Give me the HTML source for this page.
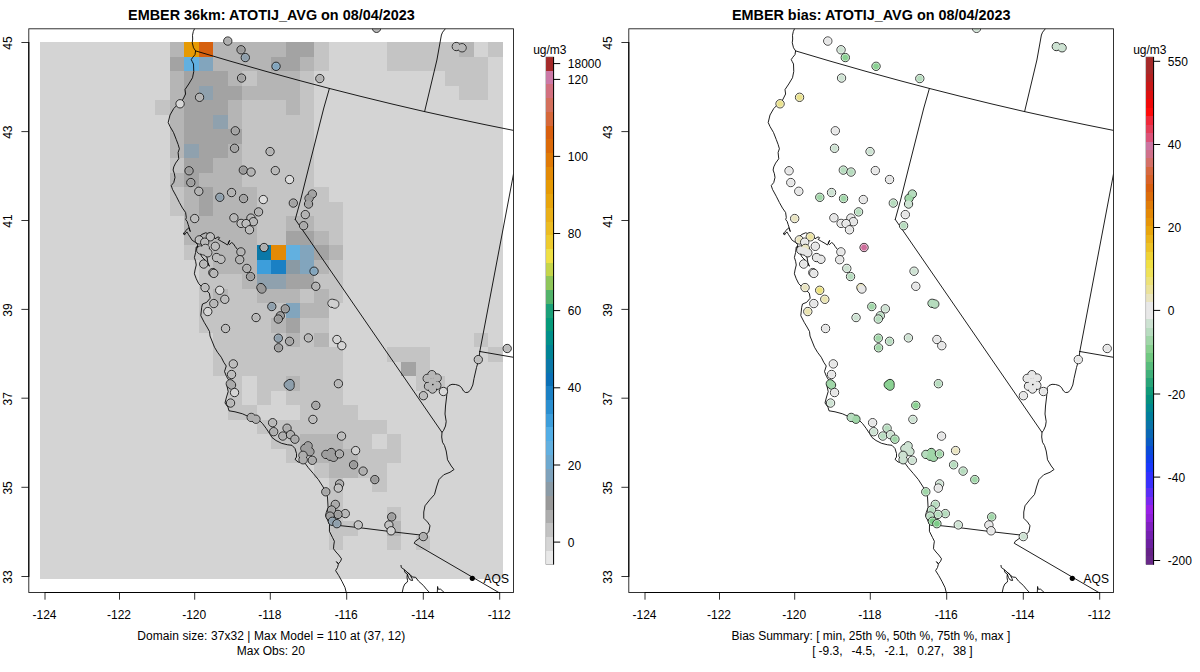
<!DOCTYPE html>
<html lang="en">
<head>
<meta charset="utf-8">
<title>EMBER 36km ATOTIJ_AVG 08/04/2023</title>
<style>
html,body{margin:0;padding:0;background:#fff;}
body{width:1200px;height:672px;overflow:hidden;font-family:"Liberation Sans",Arial,sans-serif;}
svg{display:block;}
</style>
</head>
<body>
<svg width="1200" height="672" viewBox="0 0 1200 672" font-family="Liberation Sans, Arial, sans-serif" font-size="12" fill="#000">
<rect width="1200" height="672" fill="#fff"/>
<defs>
<clipPath id="cl"><rect x="28.8" y="28.8" width="484.7" height="563.7"/></clipPath>
<clipPath id="cr"><rect x="628.8" y="28.8" width="484.7" height="563.7"/></clipPath>
</defs>
<g shape-rendering="crispEdges">
<rect x="39.55" y="42.3" width="463.05" height="536.9000000000001" fill="#d4d4d4"/>
<rect x="170" y="42" width="14" height="15" fill="#b5b5b5"/>
<rect x="184" y="42" width="15" height="15" fill="#e69a03"/>
<rect x="199" y="42" width="14" height="15" fill="#d6600e"/>
<rect x="213" y="42" width="73" height="15" fill="#b5b5b5"/>
<rect x="286" y="42" width="28" height="15" fill="#a3a3a3"/>
<rect x="314" y="42" width="15" height="15" fill="#c4c4c4"/>
<rect x="387" y="42" width="72" height="15" fill="#c4c4c4"/>
<rect x="459" y="42" width="15" height="15" fill="#b5b5b5"/>
<rect x="488" y="42" width="15" height="15" fill="#c4c4c4"/>
<rect x="170" y="57" width="14" height="14" fill="#a3a3a3"/>
<rect x="184" y="57" width="15" height="14" fill="#62b0e0"/>
<rect x="199" y="57" width="14" height="14" fill="#82a5bd"/>
<rect x="213" y="57" width="58" height="14" fill="#b5b5b5"/>
<rect x="271" y="57" width="29" height="14" fill="#a3a3a3"/>
<rect x="300" y="57" width="14" height="14" fill="#b5b5b5"/>
<rect x="314" y="57" width="15" height="14" fill="#c4c4c4"/>
<rect x="387" y="57" width="101" height="14" fill="#c4c4c4"/>
<rect x="170" y="71" width="14" height="15" fill="#b5b5b5"/>
<rect x="184" y="71" width="44" height="15" fill="#a3a3a3"/>
<rect x="228" y="71" width="14" height="15" fill="#b5b5b5"/>
<rect x="242" y="71" width="15" height="15" fill="#c4c4c4"/>
<rect x="257" y="71" width="43" height="15" fill="#b5b5b5"/>
<rect x="300" y="71" width="14" height="15" fill="#c4c4c4"/>
<rect x="445" y="71" width="43" height="15" fill="#c4c4c4"/>
<rect x="170" y="86" width="14" height="14" fill="#b5b5b5"/>
<rect x="184" y="86" width="15" height="14" fill="#a3a3a3"/>
<rect x="199" y="86" width="14" height="14" fill="#8fa1ae"/>
<rect x="213" y="86" width="29" height="14" fill="#a3a3a3"/>
<rect x="242" y="86" width="58" height="14" fill="#b5b5b5"/>
<rect x="300" y="86" width="14" height="14" fill="#c4c4c4"/>
<rect x="459" y="86" width="29" height="14" fill="#c4c4c4"/>
<rect x="155" y="100" width="15" height="15" fill="#c4c4c4"/>
<rect x="170" y="100" width="14" height="15" fill="#b5b5b5"/>
<rect x="184" y="100" width="44" height="15" fill="#a3a3a3"/>
<rect x="228" y="100" width="14" height="15" fill="#b5b5b5"/>
<rect x="242" y="100" width="44" height="15" fill="#c4c4c4"/>
<rect x="286" y="100" width="14" height="15" fill="#b5b5b5"/>
<rect x="300" y="100" width="14" height="15" fill="#c4c4c4"/>
<rect x="170" y="115" width="14" height="14" fill="#b5b5b5"/>
<rect x="184" y="115" width="29" height="14" fill="#a3a3a3"/>
<rect x="213" y="115" width="15" height="14" fill="#8fa1ae"/>
<rect x="228" y="115" width="14" height="14" fill="#b5b5b5"/>
<rect x="242" y="115" width="72" height="14" fill="#c4c4c4"/>
<rect x="170" y="129" width="14" height="15" fill="#b5b5b5"/>
<rect x="184" y="129" width="58" height="15" fill="#a3a3a3"/>
<rect x="242" y="129" width="72" height="15" fill="#c4c4c4"/>
<rect x="170" y="144" width="14" height="14" fill="#b5b5b5"/>
<rect x="184" y="144" width="15" height="14" fill="#8fa1ae"/>
<rect x="199" y="144" width="29" height="14" fill="#a3a3a3"/>
<rect x="228" y="144" width="14" height="14" fill="#b5b5b5"/>
<rect x="242" y="144" width="72" height="14" fill="#c4c4c4"/>
<rect x="170" y="158" width="14" height="15" fill="#c4c4c4"/>
<rect x="184" y="158" width="29" height="15" fill="#a3a3a3"/>
<rect x="213" y="158" width="29" height="15" fill="#b5b5b5"/>
<rect x="242" y="158" width="72" height="15" fill="#c4c4c4"/>
<rect x="170" y="173" width="14" height="14" fill="#b5b5b5"/>
<rect x="184" y="173" width="15" height="14" fill="#a3a3a3"/>
<rect x="199" y="173" width="43" height="14" fill="#b5b5b5"/>
<rect x="242" y="173" width="72" height="14" fill="#c4c4c4"/>
<rect x="170" y="187" width="14" height="15" fill="#c4c4c4"/>
<rect x="184" y="187" width="15" height="15" fill="#b5b5b5"/>
<rect x="199" y="187" width="14" height="15" fill="#a3a3a3"/>
<rect x="213" y="187" width="44" height="15" fill="#b5b5b5"/>
<rect x="257" y="187" width="72" height="15" fill="#c4c4c4"/>
<rect x="170" y="202" width="14" height="14" fill="#c4c4c4"/>
<rect x="184" y="202" width="15" height="14" fill="#b5b5b5"/>
<rect x="199" y="202" width="14" height="14" fill="#a3a3a3"/>
<rect x="213" y="202" width="44" height="14" fill="#b5b5b5"/>
<rect x="257" y="202" width="86" height="14" fill="#c4c4c4"/>
<rect x="184" y="216" width="73" height="15" fill="#b5b5b5"/>
<rect x="257" y="216" width="29" height="15" fill="#c4c4c4"/>
<rect x="286" y="216" width="28" height="15" fill="#b5b5b5"/>
<rect x="314" y="216" width="29" height="15" fill="#c4c4c4"/>
<rect x="184" y="231" width="73" height="14" fill="#b5b5b5"/>
<rect x="257" y="231" width="29" height="14" fill="#c4c4c4"/>
<rect x="286" y="231" width="28" height="14" fill="#a3a3a3"/>
<rect x="314" y="231" width="15" height="14" fill="#b5b5b5"/>
<rect x="329" y="231" width="14" height="14" fill="#c4c4c4"/>
<rect x="184" y="245" width="29" height="15" fill="#c4c4c4"/>
<rect x="213" y="245" width="44" height="15" fill="#b5b5b5"/>
<rect x="257" y="245" width="14" height="15" fill="#0a78a8"/>
<rect x="271" y="245" width="15" height="15" fill="#e38a06"/>
<rect x="286" y="245" width="14" height="15" fill="#62b0e0"/>
<rect x="300" y="245" width="14" height="15" fill="#82a5bd"/>
<rect x="314" y="245" width="15" height="15" fill="#a3a3a3"/>
<rect x="329" y="245" width="14" height="15" fill="#b5b5b5"/>
<rect x="199" y="260" width="14" height="14" fill="#c4c4c4"/>
<rect x="213" y="260" width="44" height="14" fill="#b5b5b5"/>
<rect x="257" y="260" width="14" height="14" fill="#3d9edb"/>
<rect x="271" y="260" width="15" height="14" fill="#1a80c4"/>
<rect x="286" y="260" width="14" height="14" fill="#8a9aa4"/>
<rect x="300" y="260" width="14" height="14" fill="#82a5bd"/>
<rect x="314" y="260" width="15" height="14" fill="#b5b5b5"/>
<rect x="329" y="260" width="14" height="14" fill="#c4c4c4"/>
<rect x="199" y="274" width="43" height="15" fill="#c4c4c4"/>
<rect x="242" y="274" width="15" height="15" fill="#b5b5b5"/>
<rect x="257" y="274" width="29" height="15" fill="#8fa1ae"/>
<rect x="286" y="274" width="28" height="15" fill="#a3a3a3"/>
<rect x="314" y="274" width="29" height="15" fill="#c4c4c4"/>
<rect x="199" y="289" width="14" height="14" fill="#c4c4c4"/>
<rect x="213" y="289" width="15" height="14" fill="#b5b5b5"/>
<rect x="228" y="289" width="29" height="14" fill="#c4c4c4"/>
<rect x="257" y="289" width="43" height="14" fill="#b5b5b5"/>
<rect x="300" y="289" width="14" height="14" fill="#c4c4c4"/>
<rect x="314" y="289" width="15" height="14" fill="#b5b5b5"/>
<rect x="329" y="289" width="14" height="14" fill="#c4c4c4"/>
<rect x="199" y="303" width="87" height="15" fill="#c4c4c4"/>
<rect x="286" y="303" width="14" height="15" fill="#82a5bd"/>
<rect x="300" y="303" width="29" height="15" fill="#b5b5b5"/>
<rect x="199" y="318" width="72" height="15" fill="#c4c4c4"/>
<rect x="271" y="318" width="15" height="15" fill="#b5b5b5"/>
<rect x="286" y="318" width="14" height="15" fill="#a3a3a3"/>
<rect x="300" y="318" width="29" height="15" fill="#c4c4c4"/>
<rect x="213" y="333" width="73" height="14" fill="#c4c4c4"/>
<rect x="286" y="333" width="14" height="14" fill="#b5b5b5"/>
<rect x="300" y="333" width="14" height="14" fill="#c4c4c4"/>
<rect x="314" y="333" width="15" height="14" fill="#b5b5b5"/>
<rect x="474" y="333" width="14" height="14" fill="#c4c4c4"/>
<rect x="213" y="347" width="130" height="15" fill="#c4c4c4"/>
<rect x="387" y="347" width="43" height="15" fill="#c4c4c4"/>
<rect x="488" y="347" width="15" height="15" fill="#c4c4c4"/>
<rect x="213" y="362" width="130" height="14" fill="#c4c4c4"/>
<rect x="401" y="362" width="15" height="14" fill="#a3a3a3"/>
<rect x="416" y="362" width="14" height="14" fill="#c4c4c4"/>
<rect x="228" y="376" width="14" height="15" fill="#c4c4c4"/>
<rect x="257" y="376" width="29" height="15" fill="#c4c4c4"/>
<rect x="286" y="376" width="14" height="15" fill="#b5b5b5"/>
<rect x="300" y="376" width="43" height="15" fill="#c4c4c4"/>
<rect x="416" y="376" width="29" height="15" fill="#c4c4c4"/>
<rect x="228" y="391" width="14" height="14" fill="#c4c4c4"/>
<rect x="257" y="391" width="14" height="14" fill="#c4c4c4"/>
<rect x="286" y="391" width="57" height="14" fill="#c4c4c4"/>
<rect x="228" y="405" width="29" height="15" fill="#c4c4c4"/>
<rect x="300" y="405" width="58" height="15" fill="#c4c4c4"/>
<rect x="257" y="420" width="130" height="14" fill="#c4c4c4"/>
<rect x="271" y="434" width="29" height="15" fill="#c4c4c4"/>
<rect x="300" y="434" width="43" height="15" fill="#b5b5b5"/>
<rect x="343" y="434" width="29" height="15" fill="#c4c4c4"/>
<rect x="387" y="434" width="14" height="15" fill="#c4c4c4"/>
<rect x="286" y="449" width="28" height="14" fill="#c4c4c4"/>
<rect x="314" y="449" width="44" height="14" fill="#b5b5b5"/>
<rect x="358" y="449" width="43" height="14" fill="#c4c4c4"/>
<rect x="314" y="463" width="15" height="15" fill="#c4c4c4"/>
<rect x="329" y="463" width="29" height="15" fill="#b5b5b5"/>
<rect x="358" y="463" width="29" height="15" fill="#c4c4c4"/>
<rect x="329" y="478" width="14" height="14" fill="#c4c4c4"/>
<rect x="372" y="478" width="15" height="14" fill="#c4c4c4"/>
<rect x="329" y="492" width="14" height="15" fill="#c4c4c4"/>
<rect x="329" y="507" width="14" height="14" fill="#c4c4c4"/>
<rect x="387" y="507" width="14" height="14" fill="#c4c4c4"/>
<rect x="329" y="521" width="29" height="15" fill="#c4c4c4"/>
<rect x="387" y="521" width="14" height="15" fill="#b5b5b5"/>
<rect x="329" y="536" width="14" height="14" fill="#c4c4c4"/>
<rect x="387" y="536" width="14" height="14" fill="#c4c4c4"/>
<rect x="416" y="536" width="14" height="14" fill="#c4c4c4"/>
</g>
<g clip-path="url(#cl)">
<g fill="none" stroke="#000" stroke-width="0.88" stroke-linejoin="round" stroke-linecap="round">
<polyline points="194.60,28.60 193.30,31.50 192.50,35.25 192.70,39.00 192.25,42.75 193.50,47.75 195.60,50.90 195.00,54.60 192.60,57.50 191.25,59.60 192.20,61.50 193.50,64.00 193.75,71.50 192.50,77.75 188.75,84.00 185.00,89.60 185.60,94.00 183.10,99.00 181.25,102.10 178.75,103.50 173.75,108.50 170.00,115.00 168.20,122.50 170.00,126.50 173.50,132.50 176.25,139.50 178.10,144.40 179.40,148.75 178.10,152.50 178.75,158.75 175.60,163.10 173.75,166.90 173.10,170.00 174.40,173.75 175.00,177.50 173.75,182.50 171.25,185.60 172.50,189.40 176.25,196.25 179.40,202.50 182.50,208.10 185.60,212.50 186.30,217.50 185.70,219.60 187.20,221.50 188.10,224.40 189.30,228.00 190.30,231.60 189.40,229.50 188.60,227.80 187.30,229.00 185.90,230.60 184.60,232.50 183.30,234.00 184.50,234.70 185.80,233.20 186.90,231.90 188.40,234.40 190.00,236.90 192.20,240.30 195.60,242.50 197.50,244.50 197.80,246.25 196.25,247.00 195.60,252.50 194.40,257.50 195.60,261.25 196.25,265.00 195.00,270.00 194.40,273.75 196.25,278.75 198.75,283.75 202.50,287.50 206.00,290.00 209.30,293.20 210.20,298.20 206.70,302.30 202.50,304.00 201.70,307.30 200.80,315.70 204.20,322.30 207.00,327.00 209.50,331.50 210.00,336.00 212.00,341.00 214.50,347.25 217.50,352.25 221.25,357.25 223.75,362.25 226.25,366.00 224.50,371.50 226.50,376.50 228.50,379.75 227.00,386.00 228.20,391.50 226.25,398.00 225.00,403.00 228.00,407.25 229.00,410.80 235.00,411.80 242.50,413.80 250.00,417.25 258.75,419.90 262.50,423.50 266.25,428.50 269.50,433.50 272.00,437.50 276.00,440.50 281.50,443.30 287.50,444.75 292.00,445.30 295.00,448.50 296.50,453.50 296.50,457.00 295.00,459.30 298.00,462.00 305.00,463.20 308.30,467.70 313.30,473.50 318.30,479.50 322.50,486.00 325.50,491.00 327.50,496.90 328.10,507.50 326.25,512.50 325.60,515.60 328.10,521.25 329.50,524.50 329.40,531.25 332.50,537.50 334.40,541.25 333.80,545.00 333.50,548.75 336.00,552.00 338.75,555.00 341.50,558.75 340.60,561.25 338.50,563.75 336.40,561.60 338.40,564.20 337.50,567.50 335.60,570.60 338.75,575.60 341.90,581.25 345.00,587.50 346.25,592.50"/>
<polyline points="183.60,233.20 184.90,234.20"/>
<polyline points="197.50,243.50 198.00,240.60 198.75,236.90 201.90,234.40 205.60,232.80 207.50,233.40 210.00,233.00 212.50,235.40 215.00,238.75 218.10,236.90 219.70,237.80 218.10,239.40 221.25,241.25 225.00,243.40 227.50,245.00 228.80,242.50 229.70,240.30 228.10,243.10 229.50,244.60 231.60,242.50 233.40,243.75 235.00,246.25 236.90,248.75"/>
<polyline points="197.50,246.25 196.90,250.00 200.00,253.10 201.90,256.90 205.00,260.00 208.10,263.10 209.40,266.25 208.10,264.00 207.50,260.00 206.25,253.75 202.50,247.50 201.25,242.50 203.10,238.75"/>
<polyline points="195.60,50.90 230.00,61.10 265.00,71.10 300.00,80.70 329.40,88.45 360.00,96.20 392.00,104.00 424.60,111.60 455.00,118.30 485.00,124.65 513.50,130.40"/>
<polyline points="329.40,88.45 323.80,108.00 308.60,168.00 300.60,200.00 295.25,219.40"/>
<polyline points="295.25,219.40 441.90,432.25"/>
<polyline points="424.60,111.60 436.90,60.00 441.40,35.00 442.60,32.20 445.50,28.60"/>
<polyline points="513.50,174.00 479.80,351.50"/>
<polyline points="479.80,351.50 513.50,357.30"/>
<polyline points="479.80,351.50 478.75,359.75 476.50,367.50 474.00,378.50 472.80,385.00 470.50,390.00 468.00,392.30 465.50,392.50 463.50,391.00 461.50,387.50 459.00,385.50 455.50,384.50 452.00,384.30 449.00,385.50 447.30,387.50 446.70,396.00 445.50,406.00 445.00,414.00 446.20,421.50 445.50,426.00 443.50,430.50 442.00,432.25 441.70,437.00 442.50,442.25 444.50,445.50 446.20,451.00 447.00,456.00 447.50,459.75 451.25,466.00 454.00,469.50 450.00,472.25 443.75,474.75 439.00,479.50 436.50,487.00 434.50,494.50 430.00,499.50 425.00,505.75 423.75,512.00 423.75,518.25 427.50,522.00 430.00,525.75 428.75,532.00 425.00,535.25"/>
<polyline points="329.50,524.50 358.75,527.60 390.00,531.50 422.50,535.25"/>
<polyline points="424.50,535.40 421.25,537.00 415.00,541.50 414.25,543.25 498.75,592.50"/>
<polyline points="401.00,565.40 401.30,567.50 404.30,569.60 407.30,572.30 410.20,574.60 412.30,577.00 415.60,577.30 418.60,581.20 423.30,585.40 426.90,589.80 429.60,592.50"/>
<polyline points="404.30,569.90 404.90,572.30 407.30,574.00 408.50,577.60 410.20,580.00 412.60,580.50 412.00,578.50 410.20,575.20 407.30,572.30"/>
<polyline points="407.30,574.60 407.00,577.60 407.60,580.60 407.30,582.10 404.90,583.90 403.40,587.10 402.20,592.50"/>
<polyline points="437.30,592.50 437.60,586.50 438.20,589.20 440.60,589.20 444.20,592.50"/>
</g>
<g stroke="#0c0c0c" stroke-width="0.85">
<circle cx="227.80" cy="41.05" r="4.15" fill="#aeaeae"/>
<circle cx="227.80" cy="41.05" r="3.35" fill="none" stroke="#fff" stroke-opacity="0.16" stroke-width="0.9"/>
<circle cx="241.05" cy="49.80" r="4.15" fill="#9a9a9a"/>
<circle cx="241.05" cy="49.80" r="3.35" fill="none" stroke="#fff" stroke-opacity="0.16" stroke-width="0.9"/>
<circle cx="245.30" cy="57.55" r="4.15" fill="#8e9fac"/>
<circle cx="245.30" cy="57.55" r="3.35" fill="none" stroke="#fff" stroke-opacity="0.16" stroke-width="0.9"/>
<circle cx="276.05" cy="66.30" r="4.15" fill="#82a5bd"/>
<circle cx="276.05" cy="66.30" r="3.35" fill="none" stroke="#fff" stroke-opacity="0.16" stroke-width="0.9"/>
<circle cx="241.55" cy="78.05" r="4.15" fill="#a3a3a3"/>
<circle cx="241.55" cy="78.05" r="3.35" fill="none" stroke="#fff" stroke-opacity="0.16" stroke-width="0.9"/>
<circle cx="199.55" cy="97.30" r="4.15" fill="#b2b2b2"/>
<circle cx="199.55" cy="97.30" r="3.35" fill="none" stroke="#fff" stroke-opacity="0.16" stroke-width="0.9"/>
<circle cx="180.05" cy="103.80" r="4.15" fill="#d6d6d6"/>
<circle cx="180.05" cy="103.80" r="3.35" fill="none" stroke="#fff" stroke-opacity="0.16" stroke-width="0.9"/>
<circle cx="235.30" cy="130.80" r="4.15" fill="#a3a3a3"/>
<circle cx="235.30" cy="130.80" r="3.35" fill="none" stroke="#fff" stroke-opacity="0.16" stroke-width="0.9"/>
<circle cx="234.55" cy="148.30" r="4.15" fill="#a3a3a3"/>
<circle cx="234.55" cy="148.30" r="3.35" fill="none" stroke="#fff" stroke-opacity="0.16" stroke-width="0.9"/>
<circle cx="270.05" cy="151.55" r="4.15" fill="#b2b2b2"/>
<circle cx="270.05" cy="151.55" r="3.35" fill="none" stroke="#fff" stroke-opacity="0.16" stroke-width="0.9"/>
<circle cx="376.55" cy="28.30" r="4.15" fill="#b7b7b7"/>
<circle cx="376.55" cy="28.30" r="3.35" fill="none" stroke="#fff" stroke-opacity="0.16" stroke-width="0.9"/>
<circle cx="319.80" cy="78.55" r="4.15" fill="#b2b2b2"/>
<circle cx="319.80" cy="78.55" r="3.35" fill="none" stroke="#fff" stroke-opacity="0.16" stroke-width="0.9"/>
<circle cx="456.30" cy="46.55" r="4.15" fill="#b7b7b7"/>
<circle cx="462.05" cy="47.80" r="4.15" fill="#b7b7b7"/>
<circle cx="456.30" cy="46.55" r="3.53" fill="#b7b7b7" stroke="none"/>
<circle cx="462.05" cy="47.80" r="3.53" fill="#b7b7b7" stroke="none"/>
<circle cx="189.05" cy="170.80" r="4.15" fill="#9a9a9a"/>
<circle cx="189.05" cy="170.80" r="3.35" fill="none" stroke="#fff" stroke-opacity="0.16" stroke-width="0.9"/>
<circle cx="243.30" cy="170.10" r="4.15" fill="#9a9a9a"/>
<circle cx="243.30" cy="170.10" r="3.35" fill="none" stroke="#fff" stroke-opacity="0.16" stroke-width="0.9"/>
<circle cx="251.05" cy="172.05" r="4.15" fill="#b2b2b2"/>
<circle cx="251.05" cy="172.05" r="3.35" fill="none" stroke="#fff" stroke-opacity="0.16" stroke-width="0.9"/>
<circle cx="275.30" cy="170.60" r="4.15" fill="#b7b7b7"/>
<circle cx="275.30" cy="170.60" r="3.35" fill="none" stroke="#fff" stroke-opacity="0.16" stroke-width="0.9"/>
<circle cx="289.55" cy="179.55" r="4.15" fill="#dcdcdc"/>
<circle cx="289.55" cy="179.55" r="3.35" fill="none" stroke="#fff" stroke-opacity="0.16" stroke-width="0.9"/>
<circle cx="190.80" cy="182.55" r="4.15" fill="#9e9e9e"/>
<circle cx="190.80" cy="182.55" r="3.35" fill="none" stroke="#fff" stroke-opacity="0.16" stroke-width="0.9"/>
<circle cx="198.80" cy="191.30" r="4.15" fill="#b2b2b2"/>
<circle cx="198.80" cy="191.30" r="3.35" fill="none" stroke="#fff" stroke-opacity="0.16" stroke-width="0.9"/>
<circle cx="219.80" cy="197.30" r="4.15" fill="#8e9fac"/>
<circle cx="219.80" cy="197.30" r="3.35" fill="none" stroke="#fff" stroke-opacity="0.16" stroke-width="0.9"/>
<circle cx="231.55" cy="192.55" r="4.15" fill="#b2b2b2"/>
<circle cx="231.55" cy="192.55" r="3.35" fill="none" stroke="#fff" stroke-opacity="0.16" stroke-width="0.9"/>
<circle cx="243.55" cy="198.55" r="4.15" fill="#a3a3a3"/>
<circle cx="243.55" cy="198.55" r="3.35" fill="none" stroke="#fff" stroke-opacity="0.16" stroke-width="0.9"/>
<circle cx="263.30" cy="199.55" r="4.15" fill="#dcdcdc"/>
<circle cx="263.30" cy="199.55" r="3.35" fill="none" stroke="#fff" stroke-opacity="0.16" stroke-width="0.9"/>
<circle cx="293.30" cy="203.05" r="4.15" fill="#a3a3a3"/>
<circle cx="293.30" cy="203.05" r="3.35" fill="none" stroke="#fff" stroke-opacity="0.16" stroke-width="0.9"/>
<circle cx="258.55" cy="211.90" r="4.15" fill="#b2b2b2"/>
<circle cx="258.55" cy="211.90" r="3.35" fill="none" stroke="#fff" stroke-opacity="0.16" stroke-width="0.9"/>
<circle cx="194.70" cy="218.55" r="4.15" fill="#bcbcbc"/>
<circle cx="194.70" cy="218.55" r="3.35" fill="none" stroke="#fff" stroke-opacity="0.16" stroke-width="0.9"/>
<circle cx="233.90" cy="217.80" r="4.15" fill="#b7b7b7"/>
<circle cx="233.90" cy="217.80" r="3.35" fill="none" stroke="#fff" stroke-opacity="0.16" stroke-width="0.9"/>
<circle cx="250.90" cy="218.10" r="4.15" fill="#b7b7b7"/>
<circle cx="250.90" cy="218.10" r="3.35" fill="none" stroke="#fff" stroke-opacity="0.16" stroke-width="0.9"/>
<circle cx="253.40" cy="221.70" r="4.15" fill="#b7b7b7"/>
<circle cx="253.40" cy="221.70" r="3.35" fill="none" stroke="#fff" stroke-opacity="0.16" stroke-width="0.9"/>
<circle cx="241.10" cy="223.40" r="4.15" fill="#bcbcbc"/>
<circle cx="241.10" cy="223.40" r="3.35" fill="none" stroke="#fff" stroke-opacity="0.16" stroke-width="0.9"/>
<circle cx="246.10" cy="223.60" r="4.15" fill="#bcbcbc"/>
<circle cx="246.10" cy="223.60" r="3.35" fill="none" stroke="#fff" stroke-opacity="0.16" stroke-width="0.9"/>
<circle cx="249.50" cy="229.80" r="4.15" fill="#bcbcbc"/>
<circle cx="249.50" cy="229.80" r="3.35" fill="none" stroke="#fff" stroke-opacity="0.16" stroke-width="0.9"/>
<circle cx="264.05" cy="247.50" r="4.15" fill="#aeaeae"/>
<circle cx="264.05" cy="247.50" r="3.35" fill="none" stroke="#fff" stroke-opacity="0.16" stroke-width="0.9"/>
<circle cx="305.30" cy="214.60" r="4.15" fill="#b2b2b2"/>
<circle cx="305.30" cy="214.60" r="3.35" fill="none" stroke="#fff" stroke-opacity="0.16" stroke-width="0.9"/>
<circle cx="303.60" cy="225.70" r="4.15" fill="#aaaaaa"/>
<circle cx="303.60" cy="225.70" r="3.35" fill="none" stroke="#fff" stroke-opacity="0.16" stroke-width="0.9"/>
<circle cx="210.30" cy="236.80" r="4.15" fill="#bcbcbc"/>
<circle cx="210.30" cy="236.80" r="3.35" fill="none" stroke="#fff" stroke-opacity="0.16" stroke-width="0.9"/>
<circle cx="199.30" cy="239.90" r="4.15" fill="#bcbcbc"/>
<circle cx="199.30" cy="239.90" r="3.35" fill="none" stroke="#fff" stroke-opacity="0.16" stroke-width="0.9"/>
<circle cx="204.70" cy="242.20" r="4.15" fill="#b7b7b7"/>
<circle cx="204.70" cy="242.20" r="3.35" fill="none" stroke="#fff" stroke-opacity="0.16" stroke-width="0.9"/>
<circle cx="215.30" cy="246.30" r="4.15" fill="#bcbcbc"/>
<circle cx="215.30" cy="246.30" r="3.35" fill="none" stroke="#fff" stroke-opacity="0.16" stroke-width="0.9"/>
<circle cx="200.90" cy="250.05" r="4.15" fill="#bcbcbc"/>
<circle cx="205.30" cy="248.40" r="4.15" fill="#bcbcbc"/>
<circle cx="204.05" cy="250.90" r="4.15" fill="#bcbcbc"/>
<circle cx="207.80" cy="252.80" r="4.15" fill="#bcbcbc"/>
<circle cx="200.90" cy="250.05" r="3.53" fill="#bcbcbc" stroke="none"/>
<circle cx="205.30" cy="248.40" r="3.53" fill="#bcbcbc" stroke="none"/>
<circle cx="204.05" cy="250.90" r="3.53" fill="#bcbcbc" stroke="none"/>
<circle cx="207.80" cy="252.80" r="3.53" fill="#bcbcbc" stroke="none"/>
<circle cx="240.90" cy="251.90" r="4.15" fill="#b2b2b2"/>
<circle cx="240.90" cy="251.90" r="3.35" fill="none" stroke="#fff" stroke-opacity="0.16" stroke-width="0.9"/>
<circle cx="239.70" cy="259.70" r="4.15" fill="#b2b2b2"/>
<circle cx="239.70" cy="259.70" r="3.35" fill="none" stroke="#fff" stroke-opacity="0.16" stroke-width="0.9"/>
<circle cx="216.55" cy="257.55" r="4.15" fill="#bcbcbc"/>
<circle cx="220.90" cy="259.30" r="4.15" fill="#bcbcbc"/>
<circle cx="216.55" cy="257.55" r="3.53" fill="#bcbcbc" stroke="none"/>
<circle cx="220.90" cy="259.30" r="3.53" fill="#bcbcbc" stroke="none"/>
<circle cx="203.70" cy="264.05" r="4.15" fill="#b7b7b7"/>
<circle cx="203.70" cy="264.05" r="3.35" fill="none" stroke="#fff" stroke-opacity="0.16" stroke-width="0.9"/>
<circle cx="246.80" cy="268.40" r="4.15" fill="#aeaeae"/>
<circle cx="246.80" cy="268.40" r="3.35" fill="none" stroke="#fff" stroke-opacity="0.16" stroke-width="0.9"/>
<circle cx="250.55" cy="276.55" r="4.15" fill="#9e9e9e"/>
<circle cx="250.55" cy="276.55" r="3.35" fill="none" stroke="#fff" stroke-opacity="0.16" stroke-width="0.9"/>
<circle cx="212.80" cy="272.55" r="4.15" fill="#b7b7b7"/>
<circle cx="212.80" cy="272.55" r="3.35" fill="none" stroke="#fff" stroke-opacity="0.16" stroke-width="0.9"/>
<circle cx="213.80" cy="273.40" r="4.15" fill="#b7b7b7"/>
<circle cx="213.80" cy="273.40" r="3.35" fill="none" stroke="#fff" stroke-opacity="0.16" stroke-width="0.9"/>
<circle cx="205.05" cy="287.55" r="4.15" fill="#bcbcbc"/>
<circle cx="205.05" cy="287.55" r="3.35" fill="none" stroke="#fff" stroke-opacity="0.16" stroke-width="0.9"/>
<circle cx="219.70" cy="290.30" r="4.15" fill="#d8d8d8"/>
<circle cx="219.70" cy="290.30" r="3.35" fill="none" stroke="#fff" stroke-opacity="0.16" stroke-width="0.9"/>
<circle cx="260.90" cy="287.55" r="4.15" fill="#9a9a9a"/>
<circle cx="261.90" cy="289.00" r="4.15" fill="#9a9a9a"/>
<circle cx="260.90" cy="287.55" r="3.53" fill="#9a9a9a" stroke="none"/>
<circle cx="261.90" cy="289.00" r="3.53" fill="#9a9a9a" stroke="none"/>
<circle cx="224.80" cy="299.30" r="4.15" fill="#bcbcbc"/>
<circle cx="224.80" cy="299.30" r="3.35" fill="none" stroke="#fff" stroke-opacity="0.16" stroke-width="0.9"/>
<circle cx="213.80" cy="303.55" r="4.15" fill="#b7b7b7"/>
<circle cx="213.80" cy="303.55" r="3.35" fill="none" stroke="#fff" stroke-opacity="0.16" stroke-width="0.9"/>
<circle cx="207.80" cy="311.55" r="4.15" fill="#d4d4d4"/>
<circle cx="207.80" cy="311.55" r="3.35" fill="none" stroke="#fff" stroke-opacity="0.16" stroke-width="0.9"/>
<circle cx="271.80" cy="306.55" r="4.15" fill="#8e9fac"/>
<circle cx="271.80" cy="306.55" r="3.35" fill="none" stroke="#fff" stroke-opacity="0.16" stroke-width="0.9"/>
<circle cx="285.30" cy="308.80" r="4.15" fill="#9a9a9a"/>
<circle cx="285.30" cy="308.80" r="3.35" fill="none" stroke="#fff" stroke-opacity="0.16" stroke-width="0.9"/>
<circle cx="280.30" cy="315.80" r="4.15" fill="#9a9a9a"/>
<circle cx="280.30" cy="315.80" r="3.35" fill="none" stroke="#fff" stroke-opacity="0.16" stroke-width="0.9"/>
<circle cx="278.30" cy="319.05" r="4.15" fill="#9a9a9a"/>
<circle cx="278.30" cy="319.05" r="3.35" fill="none" stroke="#fff" stroke-opacity="0.16" stroke-width="0.9"/>
<circle cx="256.05" cy="317.55" r="4.15" fill="#b7b7b7"/>
<circle cx="256.05" cy="317.55" r="3.35" fill="none" stroke="#fff" stroke-opacity="0.16" stroke-width="0.9"/>
<circle cx="225.55" cy="328.50" r="4.15" fill="#bcbcbc"/>
<circle cx="225.55" cy="328.50" r="3.35" fill="none" stroke="#fff" stroke-opacity="0.16" stroke-width="0.9"/>
<circle cx="312.30" cy="194.05" r="4.15" fill="#a3a3a3"/>
<circle cx="309.05" cy="198.30" r="4.15" fill="#9a9a9a"/>
<circle cx="308.55" cy="204.05" r="4.15" fill="#a3a3a3"/>
<circle cx="312.30" cy="194.05" r="3.53" fill="#a3a3a3" stroke="none"/>
<circle cx="309.05" cy="198.30" r="3.53" fill="#9a9a9a" stroke="none"/>
<circle cx="308.55" cy="204.05" r="3.53" fill="#a3a3a3" stroke="none"/>
<circle cx="314.05" cy="271.20" r="4.15" fill="#82a5bd"/>
<circle cx="314.05" cy="271.20" r="3.35" fill="none" stroke="#fff" stroke-opacity="0.16" stroke-width="0.9"/>
<circle cx="315.80" cy="286.30" r="4.15" fill="#b2b2b2"/>
<circle cx="315.80" cy="286.30" r="3.35" fill="none" stroke="#fff" stroke-opacity="0.16" stroke-width="0.9"/>
<circle cx="332.05" cy="303.30" r="4.15" fill="#d0d0d0"/>
<circle cx="334.80" cy="304.05" r="4.15" fill="#d0d0d0"/>
<circle cx="332.05" cy="303.30" r="3.53" fill="#d0d0d0" stroke="none"/>
<circle cx="334.80" cy="304.05" r="3.53" fill="#d0d0d0" stroke="none"/>
<circle cx="278.30" cy="338.20" r="4.15" fill="#8e9fac"/>
<circle cx="278.30" cy="338.20" r="3.35" fill="none" stroke="#fff" stroke-opacity="0.16" stroke-width="0.9"/>
<circle cx="289.55" cy="341.30" r="4.15" fill="#a6a6a6"/>
<circle cx="289.55" cy="341.30" r="3.35" fill="none" stroke="#fff" stroke-opacity="0.16" stroke-width="0.9"/>
<circle cx="278.55" cy="347.80" r="4.15" fill="#9e9e9e"/>
<circle cx="278.55" cy="347.80" r="3.35" fill="none" stroke="#fff" stroke-opacity="0.16" stroke-width="0.9"/>
<circle cx="233.30" cy="363.90" r="4.15" fill="#bcbcbc"/>
<circle cx="233.30" cy="363.90" r="3.35" fill="none" stroke="#fff" stroke-opacity="0.16" stroke-width="0.9"/>
<circle cx="231.55" cy="374.50" r="4.15" fill="#bcbcbc"/>
<circle cx="231.55" cy="374.50" r="3.35" fill="none" stroke="#fff" stroke-opacity="0.16" stroke-width="0.9"/>
<circle cx="230.30" cy="383.80" r="4.15" fill="#aaaaaa"/>
<circle cx="231.55" cy="385.05" r="4.15" fill="#aaaaaa"/>
<circle cx="230.30" cy="383.80" r="3.53" fill="#aaaaaa" stroke="none"/>
<circle cx="231.55" cy="385.05" r="3.53" fill="#aaaaaa" stroke="none"/>
<circle cx="234.55" cy="392.55" r="4.15" fill="#d4d4d4"/>
<circle cx="234.55" cy="392.55" r="3.35" fill="none" stroke="#fff" stroke-opacity="0.16" stroke-width="0.9"/>
<circle cx="230.55" cy="403.05" r="4.15" fill="#b7b7b7"/>
<circle cx="230.55" cy="403.05" r="3.35" fill="none" stroke="#fff" stroke-opacity="0.16" stroke-width="0.9"/>
<circle cx="288.25" cy="384.80" r="4.15" fill="#8e9fac"/>
<circle cx="290.00" cy="383.50" r="4.15" fill="#8e9fac"/>
<circle cx="290.00" cy="386.10" r="4.15" fill="#8e9fac"/>
<circle cx="288.25" cy="384.80" r="3.53" fill="#8e9fac" stroke="none"/>
<circle cx="290.00" cy="383.50" r="3.53" fill="#8e9fac" stroke="none"/>
<circle cx="290.00" cy="386.10" r="3.53" fill="#8e9fac" stroke="none"/>
<circle cx="251.20" cy="417.40" r="4.15" fill="#aeaeae"/>
<circle cx="255.90" cy="419.20" r="4.15" fill="#aeaeae"/>
<circle cx="251.20" cy="417.40" r="3.53" fill="#aeaeae" stroke="none"/>
<circle cx="255.90" cy="419.20" r="3.53" fill="#aeaeae" stroke="none"/>
<circle cx="272.60" cy="422.70" r="4.15" fill="#b7b7b7"/>
<circle cx="272.60" cy="422.70" r="3.35" fill="none" stroke="#fff" stroke-opacity="0.16" stroke-width="0.9"/>
<circle cx="273.70" cy="431.70" r="4.15" fill="#aeaeae"/>
<circle cx="273.70" cy="431.70" r="3.35" fill="none" stroke="#fff" stroke-opacity="0.16" stroke-width="0.9"/>
<circle cx="287.05" cy="428.20" r="4.15" fill="#aeaeae"/>
<circle cx="287.05" cy="428.20" r="3.35" fill="none" stroke="#fff" stroke-opacity="0.16" stroke-width="0.9"/>
<circle cx="282.80" cy="436.05" r="4.15" fill="#aeaeae"/>
<circle cx="282.80" cy="436.05" r="3.35" fill="none" stroke="#fff" stroke-opacity="0.16" stroke-width="0.9"/>
<circle cx="290.50" cy="434.70" r="4.15" fill="#aeaeae"/>
<circle cx="290.50" cy="434.70" r="3.35" fill="none" stroke="#fff" stroke-opacity="0.16" stroke-width="0.9"/>
<circle cx="294.90" cy="439.20" r="4.15" fill="#aaaaaa"/>
<circle cx="294.90" cy="439.20" r="3.35" fill="none" stroke="#fff" stroke-opacity="0.16" stroke-width="0.9"/>
<circle cx="308.40" cy="337.90" r="4.15" fill="#b7b7b7"/>
<circle cx="308.40" cy="337.90" r="3.35" fill="none" stroke="#fff" stroke-opacity="0.16" stroke-width="0.9"/>
<circle cx="336.90" cy="339.50" r="4.15" fill="#d4d4d4"/>
<circle cx="336.90" cy="339.50" r="3.35" fill="none" stroke="#fff" stroke-opacity="0.16" stroke-width="0.9"/>
<circle cx="341.80" cy="345.70" r="4.15" fill="#d4d4d4"/>
<circle cx="341.80" cy="345.70" r="3.35" fill="none" stroke="#fff" stroke-opacity="0.16" stroke-width="0.9"/>
<circle cx="338.40" cy="383.70" r="4.15" fill="#b7b7b7"/>
<circle cx="338.40" cy="383.70" r="3.35" fill="none" stroke="#fff" stroke-opacity="0.16" stroke-width="0.9"/>
<circle cx="315.80" cy="405.40" r="4.15" fill="#a6a6a6"/>
<circle cx="315.80" cy="405.40" r="3.35" fill="none" stroke="#fff" stroke-opacity="0.16" stroke-width="0.9"/>
<circle cx="312.90" cy="419.40" r="4.15" fill="#bcbcbc"/>
<circle cx="312.90" cy="419.40" r="3.35" fill="none" stroke="#fff" stroke-opacity="0.16" stroke-width="0.9"/>
<circle cx="341.55" cy="436.10" r="4.15" fill="#bcbcbc"/>
<circle cx="341.55" cy="436.10" r="3.35" fill="none" stroke="#fff" stroke-opacity="0.16" stroke-width="0.9"/>
<circle cx="507.20" cy="348.50" r="4.15" fill="#bcbcbc"/>
<circle cx="507.20" cy="348.50" r="3.35" fill="none" stroke="#fff" stroke-opacity="0.16" stroke-width="0.9"/>
<circle cx="478.30" cy="359.60" r="4.15" fill="#bcbcbc"/>
<circle cx="478.30" cy="359.60" r="3.35" fill="none" stroke="#fff" stroke-opacity="0.16" stroke-width="0.9"/>
<circle cx="431.90" cy="374.70" r="4.15" fill="#b7b7b7"/>
<circle cx="427.20" cy="378.40" r="4.15" fill="#b7b7b7"/>
<circle cx="437.10" cy="378.10" r="4.15" fill="#b7b7b7"/>
<circle cx="428.50" cy="386.20" r="4.15" fill="#b7b7b7"/>
<circle cx="436.80" cy="385.30" r="4.15" fill="#b7b7b7"/>
<circle cx="432.50" cy="389.00" r="4.15" fill="#b7b7b7"/>
<circle cx="432.30" cy="381.80" r="4.15" fill="#b7b7b7"/>
<circle cx="431.90" cy="374.70" r="3.53" fill="#b7b7b7" stroke="none"/>
<circle cx="427.20" cy="378.40" r="3.53" fill="#b7b7b7" stroke="none"/>
<circle cx="437.10" cy="378.10" r="3.53" fill="#b7b7b7" stroke="none"/>
<circle cx="428.50" cy="386.20" r="3.53" fill="#b7b7b7" stroke="none"/>
<circle cx="436.80" cy="385.30" r="3.53" fill="#b7b7b7" stroke="none"/>
<circle cx="432.50" cy="389.00" r="3.53" fill="#b7b7b7" stroke="none"/>
<circle cx="432.30" cy="381.80" r="3.53" fill="#b7b7b7" stroke="none"/>
<line x1="432.0" y1="384.4" x2="433.6" y2="384.4" stroke-width="1"/>
<circle cx="443.40" cy="391.50" r="4.15" fill="#d8d8d8"/>
<circle cx="443.40" cy="391.50" r="3.35" fill="none" stroke="#fff" stroke-opacity="0.16" stroke-width="0.9"/>
<circle cx="423.40" cy="395.70" r="4.15" fill="#bcbcbc"/>
<circle cx="423.40" cy="395.70" r="3.35" fill="none" stroke="#fff" stroke-opacity="0.16" stroke-width="0.9"/>
<circle cx="355.60" cy="450.60" r="4.15" fill="#d0d0d0"/>
<circle cx="355.60" cy="450.60" r="3.35" fill="none" stroke="#fff" stroke-opacity="0.16" stroke-width="0.9"/>
<circle cx="308.05" cy="445.90" r="4.15" fill="#9e9e9e"/>
<circle cx="304.90" cy="448.50" r="4.15" fill="#9e9e9e"/>
<circle cx="309.90" cy="451.70" r="4.15" fill="#9e9e9e"/>
<circle cx="308.05" cy="445.90" r="3.53" fill="#9e9e9e" stroke="none"/>
<circle cx="304.90" cy="448.50" r="3.53" fill="#9e9e9e" stroke="none"/>
<circle cx="309.90" cy="451.70" r="3.53" fill="#9e9e9e" stroke="none"/>
<circle cx="303.00" cy="455.30" r="4.15" fill="#aeaeae"/>
<circle cx="303.10" cy="459.80" r="4.15" fill="#aeaeae"/>
<circle cx="303.00" cy="455.30" r="3.53" fill="#aeaeae" stroke="none"/>
<circle cx="303.10" cy="459.80" r="3.53" fill="#aeaeae" stroke="none"/>
<circle cx="312.30" cy="460.30" r="4.15" fill="#aaaaaa"/>
<circle cx="312.30" cy="460.30" r="3.35" fill="none" stroke="#fff" stroke-opacity="0.16" stroke-width="0.9"/>
<circle cx="325.90" cy="454.40" r="4.15" fill="#9e9e9e"/>
<circle cx="331.30" cy="452.50" r="4.15" fill="#9e9e9e"/>
<circle cx="330.30" cy="456.30" r="4.15" fill="#9e9e9e"/>
<circle cx="333.60" cy="457.30" r="4.15" fill="#9e9e9e"/>
<circle cx="325.90" cy="454.40" r="3.53" fill="#9e9e9e" stroke="none"/>
<circle cx="331.30" cy="452.50" r="3.53" fill="#9e9e9e" stroke="none"/>
<circle cx="330.30" cy="456.30" r="3.53" fill="#9e9e9e" stroke="none"/>
<circle cx="333.60" cy="457.30" r="3.53" fill="#9e9e9e" stroke="none"/>
<circle cx="339.50" cy="453.90" r="4.15" fill="#aaaaaa"/>
<circle cx="339.50" cy="453.90" r="3.35" fill="none" stroke="#fff" stroke-opacity="0.16" stroke-width="0.9"/>
<circle cx="353.60" cy="464.80" r="4.15" fill="#9a9a9a"/>
<circle cx="353.60" cy="464.80" r="3.35" fill="none" stroke="#fff" stroke-opacity="0.16" stroke-width="0.9"/>
<circle cx="363.10" cy="471.10" r="4.15" fill="#aeaeae"/>
<circle cx="363.10" cy="471.10" r="3.35" fill="none" stroke="#fff" stroke-opacity="0.16" stroke-width="0.9"/>
<circle cx="374.80" cy="479.60" r="4.15" fill="#9a9a9a"/>
<circle cx="374.80" cy="479.60" r="3.35" fill="none" stroke="#fff" stroke-opacity="0.16" stroke-width="0.9"/>
<circle cx="339.60" cy="483.90" r="4.15" fill="#aeaeae"/>
<circle cx="339.60" cy="483.90" r="3.35" fill="none" stroke="#fff" stroke-opacity="0.16" stroke-width="0.9"/>
<circle cx="338.30" cy="488.10" r="4.15" fill="#c2c2c2"/>
<circle cx="338.30" cy="488.10" r="3.35" fill="none" stroke="#fff" stroke-opacity="0.16" stroke-width="0.9"/>
<circle cx="325.80" cy="491.80" r="4.15" fill="#a6a6a6"/>
<circle cx="325.80" cy="491.80" r="3.35" fill="none" stroke="#fff" stroke-opacity="0.16" stroke-width="0.9"/>
<circle cx="335.30" cy="504.40" r="4.15" fill="#aaaaaa"/>
<circle cx="335.30" cy="504.40" r="3.35" fill="none" stroke="#fff" stroke-opacity="0.16" stroke-width="0.9"/>
<circle cx="331.60" cy="510.00" r="4.15" fill="#a6a6a6"/>
<circle cx="331.60" cy="510.00" r="3.35" fill="none" stroke="#fff" stroke-opacity="0.16" stroke-width="0.9"/>
<circle cx="345.30" cy="513.60" r="4.15" fill="#b7b7b7"/>
<circle cx="345.30" cy="513.60" r="3.35" fill="none" stroke="#fff" stroke-opacity="0.16" stroke-width="0.9"/>
<circle cx="338.00" cy="514.40" r="4.15" fill="#9e9e9e"/>
<circle cx="338.00" cy="514.40" r="3.35" fill="none" stroke="#fff" stroke-opacity="0.16" stroke-width="0.9"/>
<circle cx="330.00" cy="516.10" r="4.15" fill="#9e9e9e"/>
<circle cx="330.00" cy="516.10" r="3.35" fill="none" stroke="#fff" stroke-opacity="0.16" stroke-width="0.9"/>
<circle cx="332.40" cy="521.30" r="4.15" fill="#8e9fac"/>
<circle cx="332.40" cy="521.30" r="3.35" fill="none" stroke="#fff" stroke-opacity="0.16" stroke-width="0.9"/>
<circle cx="336.90" cy="523.70" r="4.15" fill="#8e9fac"/>
<circle cx="336.90" cy="523.70" r="3.35" fill="none" stroke="#fff" stroke-opacity="0.16" stroke-width="0.9"/>
<circle cx="358.30" cy="524.90" r="4.15" fill="#c2c2c2"/>
<circle cx="358.30" cy="524.90" r="3.35" fill="none" stroke="#fff" stroke-opacity="0.16" stroke-width="0.9"/>
<circle cx="391.70" cy="516.90" r="4.15" fill="#9e9e9e"/>
<circle cx="391.70" cy="516.90" r="3.35" fill="none" stroke="#fff" stroke-opacity="0.16" stroke-width="0.9"/>
<circle cx="388.90" cy="525.00" r="4.15" fill="#c2c2c2"/>
<circle cx="388.90" cy="525.00" r="3.35" fill="none" stroke="#fff" stroke-opacity="0.16" stroke-width="0.9"/>
<circle cx="391.10" cy="530.80" r="4.15" fill="#d0d0d0"/>
<circle cx="391.10" cy="530.80" r="3.35" fill="none" stroke="#fff" stroke-opacity="0.16" stroke-width="0.9"/>
<circle cx="423.30" cy="536.60" r="4.15" fill="#aeaeae"/>
<circle cx="423.30" cy="536.60" r="3.35" fill="none" stroke="#fff" stroke-opacity="0.16" stroke-width="0.9"/>
</g>
<circle cx="472.3" cy="578.3" r="2.6" fill="#000"/>
</g>
<text x="483.6" y="582.6">AQS</text>
<g fill="none" stroke="#1c1c1c" stroke-width="0.9">
<rect x="28.8" y="28.8" width="484.7" height="563.7"/>
<line x1="45.0" y1="592.5" x2="45.0" y2="599.7"/>
<line x1="119.5" y1="592.5" x2="119.5" y2="599.7"/>
<line x1="194.7" y1="592.5" x2="194.7" y2="599.7"/>
<line x1="270.3" y1="592.5" x2="270.3" y2="599.7"/>
<line x1="346.7" y1="592.5" x2="346.7" y2="599.7"/>
<line x1="423.3" y1="592.5" x2="423.3" y2="599.7"/>
<line x1="499.7" y1="592.5" x2="499.7" y2="599.7"/>
<line x1="21.4" y1="42.5" x2="28.8" y2="42.5"/>
<line x1="21.4" y1="131.6" x2="28.8" y2="131.6"/>
<line x1="21.4" y1="220.5" x2="28.8" y2="220.5"/>
<line x1="21.4" y1="309.4" x2="28.8" y2="309.4"/>
<line x1="21.4" y1="398.2" x2="28.8" y2="398.2"/>
<line x1="21.4" y1="487.3" x2="28.8" y2="487.3"/>
<line x1="21.4" y1="576.5" x2="28.8" y2="576.5"/>
<line x1="44.6" y1="592.5" x2="500.1" y2="592.5" stroke="#000" stroke-width="1.1"/>
<line x1="28.8" y1="42.1" x2="28.8" y2="576.9" stroke="#000" stroke-width="1.1"/>
</g>
<g text-anchor="middle">
<text x="44.5" y="619.2">-124</text>
<text x="119.0" y="619.2">-122</text>
<text x="194.2" y="619.2">-120</text>
<text x="269.8" y="619.2">-118</text>
<text x="346.2" y="619.2">-116</text>
<text x="422.8" y="619.2">-114</text>
<text x="499.2" y="619.2">-112</text>
<text transform="translate(12.2,43.1) rotate(-90)">45</text>
<text transform="translate(12.2,132.2) rotate(-90)">43</text>
<text transform="translate(12.2,221.1) rotate(-90)">41</text>
<text transform="translate(12.2,310.0) rotate(-90)">39</text>
<text transform="translate(12.2,398.8) rotate(-90)">37</text>
<text transform="translate(12.2,487.9) rotate(-90)">35</text>
<text transform="translate(12.2,577.1) rotate(-90)">33</text>
</g>
<g clip-path="url(#cr)">
<g fill="none" stroke="#000" stroke-width="0.88" stroke-linejoin="round" stroke-linecap="round">
<polyline points="794.60,28.60 793.30,31.50 792.50,35.25 792.70,39.00 792.25,42.75 793.50,47.75 795.60,50.90 795.00,54.60 792.60,57.50 791.25,59.60 792.20,61.50 793.50,64.00 793.75,71.50 792.50,77.75 788.75,84.00 785.00,89.60 785.60,94.00 783.10,99.00 781.25,102.10 778.75,103.50 773.75,108.50 770.00,115.00 768.20,122.50 770.00,126.50 773.50,132.50 776.25,139.50 778.10,144.40 779.40,148.75 778.10,152.50 778.75,158.75 775.60,163.10 773.75,166.90 773.10,170.00 774.40,173.75 775.00,177.50 773.75,182.50 771.25,185.60 772.50,189.40 776.25,196.25 779.40,202.50 782.50,208.10 785.60,212.50 786.30,217.50 785.70,219.60 787.20,221.50 788.10,224.40 789.30,228.00 790.30,231.60 789.40,229.50 788.60,227.80 787.30,229.00 785.90,230.60 784.60,232.50 783.30,234.00 784.50,234.70 785.80,233.20 786.90,231.90 788.40,234.40 790.00,236.90 792.20,240.30 795.60,242.50 797.50,244.50 797.80,246.25 796.25,247.00 795.60,252.50 794.40,257.50 795.60,261.25 796.25,265.00 795.00,270.00 794.40,273.75 796.25,278.75 798.75,283.75 802.50,287.50 806.00,290.00 809.30,293.20 810.20,298.20 806.70,302.30 802.50,304.00 801.70,307.30 800.80,315.70 804.20,322.30 807.00,327.00 809.50,331.50 810.00,336.00 812.00,341.00 814.50,347.25 817.50,352.25 821.25,357.25 823.75,362.25 826.25,366.00 824.50,371.50 826.50,376.50 828.50,379.75 827.00,386.00 828.20,391.50 826.25,398.00 825.00,403.00 828.00,407.25 829.00,410.80 835.00,411.80 842.50,413.80 850.00,417.25 858.75,419.90 862.50,423.50 866.25,428.50 869.50,433.50 872.00,437.50 876.00,440.50 881.50,443.30 887.50,444.75 892.00,445.30 895.00,448.50 896.50,453.50 896.50,457.00 895.00,459.30 898.00,462.00 905.00,463.20 908.30,467.70 913.30,473.50 918.30,479.50 922.50,486.00 925.50,491.00 927.50,496.90 928.10,507.50 926.25,512.50 925.60,515.60 928.10,521.25 929.50,524.50 929.40,531.25 932.50,537.50 934.40,541.25 933.80,545.00 933.50,548.75 936.00,552.00 938.75,555.00 941.50,558.75 940.60,561.25 938.50,563.75 936.40,561.60 938.40,564.20 937.50,567.50 935.60,570.60 938.75,575.60 941.90,581.25 945.00,587.50 946.25,592.50"/>
<polyline points="783.60,233.20 784.90,234.20"/>
<polyline points="797.50,243.50 798.00,240.60 798.75,236.90 801.90,234.40 805.60,232.80 807.50,233.40 810.00,233.00 812.50,235.40 815.00,238.75 818.10,236.90 819.70,237.80 818.10,239.40 821.25,241.25 825.00,243.40 827.50,245.00 828.80,242.50 829.70,240.30 828.10,243.10 829.50,244.60 831.60,242.50 833.40,243.75 835.00,246.25 836.90,248.75"/>
<polyline points="797.50,246.25 796.90,250.00 800.00,253.10 801.90,256.90 805.00,260.00 808.10,263.10 809.40,266.25 808.10,264.00 807.50,260.00 806.25,253.75 802.50,247.50 801.25,242.50 803.10,238.75"/>
<polyline points="795.60,50.90 830.00,61.10 865.00,71.10 900.00,80.70 929.40,88.45 960.00,96.20 992.00,104.00 1024.60,111.60 1055.00,118.30 1085.00,124.65 1113.50,130.40"/>
<polyline points="929.40,88.45 923.80,108.00 908.60,168.00 900.60,200.00 895.25,219.40"/>
<polyline points="895.25,219.40 1041.90,432.25"/>
<polyline points="1024.60,111.60 1036.90,60.00 1041.40,35.00 1042.60,32.20 1045.50,28.60"/>
<polyline points="1113.50,174.00 1079.80,351.50"/>
<polyline points="1079.80,351.50 1113.50,357.30"/>
<polyline points="1079.80,351.50 1078.75,359.75 1076.50,367.50 1074.00,378.50 1072.80,385.00 1070.50,390.00 1068.00,392.30 1065.50,392.50 1063.50,391.00 1061.50,387.50 1059.00,385.50 1055.50,384.50 1052.00,384.30 1049.00,385.50 1047.30,387.50 1046.70,396.00 1045.50,406.00 1045.00,414.00 1046.20,421.50 1045.50,426.00 1043.50,430.50 1042.00,432.25 1041.70,437.00 1042.50,442.25 1044.50,445.50 1046.20,451.00 1047.00,456.00 1047.50,459.75 1051.25,466.00 1054.00,469.50 1050.00,472.25 1043.75,474.75 1039.00,479.50 1036.50,487.00 1034.50,494.50 1030.00,499.50 1025.00,505.75 1023.75,512.00 1023.75,518.25 1027.50,522.00 1030.00,525.75 1028.75,532.00 1025.00,535.25"/>
<polyline points="929.50,524.50 958.75,527.60 990.00,531.50 1022.50,535.25"/>
<polyline points="1024.50,535.40 1021.25,537.00 1015.00,541.50 1014.25,543.25 1098.75,592.50"/>
<polyline points="1001.00,565.40 1001.30,567.50 1004.30,569.60 1007.30,572.30 1010.20,574.60 1012.30,577.00 1015.60,577.30 1018.60,581.20 1023.30,585.40 1026.90,589.80 1029.60,592.50"/>
<polyline points="1004.30,569.90 1004.90,572.30 1007.30,574.00 1008.50,577.60 1010.20,580.00 1012.60,580.50 1012.00,578.50 1010.20,575.20 1007.30,572.30"/>
<polyline points="1007.30,574.60 1007.00,577.60 1007.60,580.60 1007.30,582.10 1004.90,583.90 1003.40,587.10 1002.20,592.50"/>
<polyline points="1037.30,592.50 1037.60,586.50 1038.20,589.20 1040.60,589.20 1044.20,592.50"/>
</g>
<g stroke="#0c0c0c" stroke-width="0.85">
<circle cx="827.80" cy="41.05" r="4.15" fill="#e6e6e6"/>
<circle cx="827.80" cy="41.05" r="3.42" fill="none" stroke="#fff" stroke-opacity="0.8" stroke-width="0.7"/>
<circle cx="841.05" cy="49.80" r="4.15" fill="#cde2d2"/>
<circle cx="841.05" cy="49.80" r="3.42" fill="none" stroke="#fff" stroke-opacity="0.8" stroke-width="0.7"/>
<circle cx="845.30" cy="57.55" r="4.15" fill="#8ad192"/>
<circle cx="845.30" cy="57.55" r="3.42" fill="none" stroke="#fff" stroke-opacity="0.8" stroke-width="0.7"/>
<circle cx="876.05" cy="66.30" r="4.15" fill="#8ad192"/>
<circle cx="876.05" cy="66.30" r="3.42" fill="none" stroke="#fff" stroke-opacity="0.8" stroke-width="0.7"/>
<circle cx="841.55" cy="78.05" r="4.15" fill="#cde2d2"/>
<circle cx="841.55" cy="78.05" r="3.42" fill="none" stroke="#fff" stroke-opacity="0.8" stroke-width="0.7"/>
<circle cx="799.55" cy="97.30" r="4.15" fill="#eae28c"/>
<circle cx="799.55" cy="97.30" r="3.42" fill="none" stroke="#fff" stroke-opacity="0.8" stroke-width="0.7"/>
<circle cx="780.05" cy="103.80" r="4.15" fill="#eae28c"/>
<circle cx="780.05" cy="103.80" r="3.42" fill="none" stroke="#fff" stroke-opacity="0.8" stroke-width="0.7"/>
<circle cx="835.30" cy="130.80" r="4.15" fill="#e6e6e6"/>
<circle cx="835.30" cy="130.80" r="3.42" fill="none" stroke="#fff" stroke-opacity="0.8" stroke-width="0.7"/>
<circle cx="834.55" cy="148.30" r="4.15" fill="#cde2d2"/>
<circle cx="834.55" cy="148.30" r="3.42" fill="none" stroke="#fff" stroke-opacity="0.8" stroke-width="0.7"/>
<circle cx="870.05" cy="151.55" r="4.15" fill="#cde2d2"/>
<circle cx="870.05" cy="151.55" r="3.42" fill="none" stroke="#fff" stroke-opacity="0.8" stroke-width="0.7"/>
<circle cx="976.55" cy="28.30" r="4.15" fill="#cde2d2"/>
<circle cx="976.55" cy="28.30" r="3.42" fill="none" stroke="#fff" stroke-opacity="0.8" stroke-width="0.7"/>
<circle cx="919.80" cy="78.55" r="4.15" fill="#b6dcbe"/>
<circle cx="919.80" cy="78.55" r="3.42" fill="none" stroke="#fff" stroke-opacity="0.8" stroke-width="0.7"/>
<circle cx="1056.30" cy="46.55" r="4.15" fill="#cde2d2"/>
<circle cx="1062.05" cy="47.80" r="4.15" fill="#cde2d2"/>
<circle cx="1056.30" cy="46.55" r="3.53" fill="#cde2d2" stroke="none"/>
<circle cx="1062.05" cy="47.80" r="3.53" fill="#cde2d2" stroke="none"/>
<circle cx="789.05" cy="170.80" r="4.15" fill="#e6e6e6"/>
<circle cx="789.05" cy="170.80" r="3.42" fill="none" stroke="#fff" stroke-opacity="0.8" stroke-width="0.7"/>
<circle cx="843.30" cy="170.10" r="4.15" fill="#b6dcbe"/>
<circle cx="843.30" cy="170.10" r="3.42" fill="none" stroke="#fff" stroke-opacity="0.8" stroke-width="0.7"/>
<circle cx="851.05" cy="172.05" r="4.15" fill="#b6dcbe"/>
<circle cx="851.05" cy="172.05" r="3.42" fill="none" stroke="#fff" stroke-opacity="0.8" stroke-width="0.7"/>
<circle cx="875.30" cy="170.60" r="4.15" fill="#e6e6e6"/>
<circle cx="875.30" cy="170.60" r="3.42" fill="none" stroke="#fff" stroke-opacity="0.8" stroke-width="0.7"/>
<circle cx="889.55" cy="179.55" r="4.15" fill="#e6e6e6"/>
<circle cx="889.55" cy="179.55" r="3.42" fill="none" stroke="#fff" stroke-opacity="0.8" stroke-width="0.7"/>
<circle cx="790.80" cy="182.55" r="4.15" fill="#e6e6e6"/>
<circle cx="790.80" cy="182.55" r="3.42" fill="none" stroke="#fff" stroke-opacity="0.8" stroke-width="0.7"/>
<circle cx="798.80" cy="191.30" r="4.15" fill="#e6e6e6"/>
<circle cx="798.80" cy="191.30" r="3.42" fill="none" stroke="#fff" stroke-opacity="0.8" stroke-width="0.7"/>
<circle cx="819.80" cy="197.30" r="4.15" fill="#a0d6a8"/>
<circle cx="819.80" cy="197.30" r="3.42" fill="none" stroke="#fff" stroke-opacity="0.8" stroke-width="0.7"/>
<circle cx="831.55" cy="192.55" r="4.15" fill="#cde2d2"/>
<circle cx="831.55" cy="192.55" r="3.42" fill="none" stroke="#fff" stroke-opacity="0.8" stroke-width="0.7"/>
<circle cx="843.55" cy="198.55" r="4.15" fill="#a0d6a8"/>
<circle cx="843.55" cy="198.55" r="3.42" fill="none" stroke="#fff" stroke-opacity="0.8" stroke-width="0.7"/>
<circle cx="863.30" cy="199.55" r="4.15" fill="#e6e6e6"/>
<circle cx="863.30" cy="199.55" r="3.42" fill="none" stroke="#fff" stroke-opacity="0.8" stroke-width="0.7"/>
<circle cx="893.30" cy="203.05" r="4.15" fill="#b6dcbe"/>
<circle cx="893.30" cy="203.05" r="3.42" fill="none" stroke="#fff" stroke-opacity="0.8" stroke-width="0.7"/>
<circle cx="858.55" cy="211.90" r="4.15" fill="#b6dcbe"/>
<circle cx="858.55" cy="211.90" r="3.42" fill="none" stroke="#fff" stroke-opacity="0.8" stroke-width="0.7"/>
<circle cx="794.70" cy="218.55" r="4.15" fill="#e9e4c0"/>
<circle cx="794.70" cy="218.55" r="3.42" fill="none" stroke="#fff" stroke-opacity="0.8" stroke-width="0.7"/>
<circle cx="833.90" cy="217.80" r="4.15" fill="#e6e6e6"/>
<circle cx="833.90" cy="217.80" r="3.42" fill="none" stroke="#fff" stroke-opacity="0.8" stroke-width="0.7"/>
<circle cx="850.90" cy="218.10" r="4.15" fill="#e6e6e6"/>
<circle cx="850.90" cy="218.10" r="3.42" fill="none" stroke="#fff" stroke-opacity="0.8" stroke-width="0.7"/>
<circle cx="853.40" cy="221.70" r="4.15" fill="#e6e6e6"/>
<circle cx="853.40" cy="221.70" r="3.42" fill="none" stroke="#fff" stroke-opacity="0.8" stroke-width="0.7"/>
<circle cx="841.10" cy="223.40" r="4.15" fill="#e6e6e6"/>
<circle cx="841.10" cy="223.40" r="3.42" fill="none" stroke="#fff" stroke-opacity="0.8" stroke-width="0.7"/>
<circle cx="846.10" cy="223.60" r="4.15" fill="#e6e6e6"/>
<circle cx="846.10" cy="223.60" r="3.42" fill="none" stroke="#fff" stroke-opacity="0.8" stroke-width="0.7"/>
<circle cx="849.50" cy="229.80" r="4.15" fill="#e6e6e6"/>
<circle cx="849.50" cy="229.80" r="3.42" fill="none" stroke="#fff" stroke-opacity="0.8" stroke-width="0.7"/>
<circle cx="864.05" cy="247.50" r="4.15" fill="#cf6e9c"/>
<circle cx="864.05" cy="247.50" r="3.42" fill="none" stroke="#fff" stroke-opacity="0.8" stroke-width="0.7"/>
<circle cx="905.30" cy="214.60" r="4.15" fill="#e6e6e6"/>
<circle cx="905.30" cy="214.60" r="3.42" fill="none" stroke="#fff" stroke-opacity="0.8" stroke-width="0.7"/>
<circle cx="903.60" cy="225.70" r="4.15" fill="#b6dcbe"/>
<circle cx="903.60" cy="225.70" r="3.42" fill="none" stroke="#fff" stroke-opacity="0.8" stroke-width="0.7"/>
<circle cx="810.30" cy="236.80" r="4.15" fill="#ebe2a0"/>
<circle cx="810.30" cy="236.80" r="3.42" fill="none" stroke="#fff" stroke-opacity="0.8" stroke-width="0.7"/>
<circle cx="799.30" cy="239.90" r="4.15" fill="#e9e4c0"/>
<circle cx="799.30" cy="239.90" r="3.42" fill="none" stroke="#fff" stroke-opacity="0.8" stroke-width="0.7"/>
<circle cx="804.70" cy="242.20" r="4.15" fill="#e6e6e6"/>
<circle cx="804.70" cy="242.20" r="3.42" fill="none" stroke="#fff" stroke-opacity="0.8" stroke-width="0.7"/>
<circle cx="815.30" cy="246.30" r="4.15" fill="#e6e6e6"/>
<circle cx="815.30" cy="246.30" r="3.42" fill="none" stroke="#fff" stroke-opacity="0.8" stroke-width="0.7"/>
<circle cx="800.90" cy="250.05" r="4.15" fill="#e6e6e6"/>
<circle cx="805.30" cy="248.40" r="4.15" fill="#e9e4c0"/>
<circle cx="804.05" cy="250.90" r="4.15" fill="#e6e6e6"/>
<circle cx="807.80" cy="252.80" r="4.15" fill="#e6e6e6"/>
<circle cx="800.90" cy="250.05" r="3.53" fill="#e6e6e6" stroke="none"/>
<circle cx="805.30" cy="248.40" r="3.53" fill="#e9e4c0" stroke="none"/>
<circle cx="804.05" cy="250.90" r="3.53" fill="#e6e6e6" stroke="none"/>
<circle cx="807.80" cy="252.80" r="3.53" fill="#e6e6e6" stroke="none"/>
<circle cx="840.90" cy="251.90" r="4.15" fill="#e6e6e6"/>
<circle cx="840.90" cy="251.90" r="3.42" fill="none" stroke="#fff" stroke-opacity="0.8" stroke-width="0.7"/>
<circle cx="839.70" cy="259.70" r="4.15" fill="#e6e6e6"/>
<circle cx="839.70" cy="259.70" r="3.42" fill="none" stroke="#fff" stroke-opacity="0.8" stroke-width="0.7"/>
<circle cx="816.55" cy="257.55" r="4.15" fill="#e6e6e6"/>
<circle cx="820.90" cy="259.30" r="4.15" fill="#e6e6e6"/>
<circle cx="816.55" cy="257.55" r="3.53" fill="#e6e6e6" stroke="none"/>
<circle cx="820.90" cy="259.30" r="3.53" fill="#e6e6e6" stroke="none"/>
<circle cx="803.70" cy="264.05" r="4.15" fill="#e6e6e6"/>
<circle cx="803.70" cy="264.05" r="3.42" fill="none" stroke="#fff" stroke-opacity="0.8" stroke-width="0.7"/>
<circle cx="846.80" cy="268.40" r="4.15" fill="#cde2d2"/>
<circle cx="846.80" cy="268.40" r="3.42" fill="none" stroke="#fff" stroke-opacity="0.8" stroke-width="0.7"/>
<circle cx="850.55" cy="276.55" r="4.15" fill="#b6dcbe"/>
<circle cx="850.55" cy="276.55" r="3.42" fill="none" stroke="#fff" stroke-opacity="0.8" stroke-width="0.7"/>
<circle cx="812.80" cy="272.55" r="4.15" fill="#e6e6e6"/>
<circle cx="812.80" cy="272.55" r="3.42" fill="none" stroke="#fff" stroke-opacity="0.8" stroke-width="0.7"/>
<circle cx="813.80" cy="273.40" r="4.15" fill="#e6e6e6"/>
<circle cx="813.80" cy="273.40" r="3.42" fill="none" stroke="#fff" stroke-opacity="0.8" stroke-width="0.7"/>
<circle cx="805.05" cy="287.55" r="4.15" fill="#e9e4c0"/>
<circle cx="805.05" cy="287.55" r="3.42" fill="none" stroke="#fff" stroke-opacity="0.8" stroke-width="0.7"/>
<circle cx="819.70" cy="290.30" r="4.15" fill="#ede27c"/>
<circle cx="819.70" cy="290.30" r="3.42" fill="none" stroke="#fff" stroke-opacity="0.8" stroke-width="0.7"/>
<circle cx="860.90" cy="287.55" r="4.15" fill="#e9e4c0"/>
<circle cx="861.90" cy="289.00" r="4.15" fill="#e6e6e6"/>
<circle cx="860.90" cy="287.55" r="3.53" fill="#e9e4c0" stroke="none"/>
<circle cx="861.90" cy="289.00" r="3.53" fill="#e6e6e6" stroke="none"/>
<circle cx="824.80" cy="299.30" r="4.15" fill="#eae4b0"/>
<circle cx="824.80" cy="299.30" r="3.42" fill="none" stroke="#fff" stroke-opacity="0.8" stroke-width="0.7"/>
<circle cx="813.80" cy="303.55" r="4.15" fill="#e6e6e6"/>
<circle cx="813.80" cy="303.55" r="3.42" fill="none" stroke="#fff" stroke-opacity="0.8" stroke-width="0.7"/>
<circle cx="807.80" cy="311.55" r="4.15" fill="#eae4b0"/>
<circle cx="807.80" cy="311.55" r="3.42" fill="none" stroke="#fff" stroke-opacity="0.8" stroke-width="0.7"/>
<circle cx="871.80" cy="306.55" r="4.15" fill="#a0d6a8"/>
<circle cx="871.80" cy="306.55" r="3.42" fill="none" stroke="#fff" stroke-opacity="0.8" stroke-width="0.7"/>
<circle cx="885.30" cy="308.80" r="4.15" fill="#cde2d2"/>
<circle cx="885.30" cy="308.80" r="3.42" fill="none" stroke="#fff" stroke-opacity="0.8" stroke-width="0.7"/>
<circle cx="880.30" cy="315.80" r="4.15" fill="#b6dcbe"/>
<circle cx="880.30" cy="315.80" r="3.42" fill="none" stroke="#fff" stroke-opacity="0.8" stroke-width="0.7"/>
<circle cx="878.30" cy="319.05" r="4.15" fill="#b6dcbe"/>
<circle cx="878.30" cy="319.05" r="3.42" fill="none" stroke="#fff" stroke-opacity="0.8" stroke-width="0.7"/>
<circle cx="856.05" cy="317.55" r="4.15" fill="#cde2d2"/>
<circle cx="856.05" cy="317.55" r="3.42" fill="none" stroke="#fff" stroke-opacity="0.8" stroke-width="0.7"/>
<circle cx="825.55" cy="328.50" r="4.15" fill="#e6e6e6"/>
<circle cx="825.55" cy="328.50" r="3.42" fill="none" stroke="#fff" stroke-opacity="0.8" stroke-width="0.7"/>
<circle cx="912.30" cy="194.05" r="4.15" fill="#b6dcbe"/>
<circle cx="909.05" cy="198.30" r="4.15" fill="#a0d6a8"/>
<circle cx="908.55" cy="204.05" r="4.15" fill="#cde2d2"/>
<circle cx="912.30" cy="194.05" r="3.53" fill="#b6dcbe" stroke="none"/>
<circle cx="909.05" cy="198.30" r="3.53" fill="#a0d6a8" stroke="none"/>
<circle cx="908.55" cy="204.05" r="3.53" fill="#cde2d2" stroke="none"/>
<circle cx="914.05" cy="271.20" r="4.15" fill="#cde2d2"/>
<circle cx="914.05" cy="271.20" r="3.42" fill="none" stroke="#fff" stroke-opacity="0.8" stroke-width="0.7"/>
<circle cx="915.80" cy="286.30" r="4.15" fill="#e6e6e6"/>
<circle cx="915.80" cy="286.30" r="3.42" fill="none" stroke="#fff" stroke-opacity="0.8" stroke-width="0.7"/>
<circle cx="932.05" cy="303.30" r="4.15" fill="#b6dcbe"/>
<circle cx="934.80" cy="304.05" r="4.15" fill="#b6dcbe"/>
<circle cx="932.05" cy="303.30" r="3.53" fill="#b6dcbe" stroke="none"/>
<circle cx="934.80" cy="304.05" r="3.53" fill="#b6dcbe" stroke="none"/>
<circle cx="878.30" cy="338.20" r="4.15" fill="#a0d6a8"/>
<circle cx="878.30" cy="338.20" r="3.42" fill="none" stroke="#fff" stroke-opacity="0.8" stroke-width="0.7"/>
<circle cx="889.55" cy="341.30" r="4.15" fill="#b8dcc0"/>
<circle cx="889.55" cy="341.30" r="3.42" fill="none" stroke="#fff" stroke-opacity="0.8" stroke-width="0.7"/>
<circle cx="878.55" cy="347.80" r="4.15" fill="#a0d6a8"/>
<circle cx="878.55" cy="347.80" r="3.42" fill="none" stroke="#fff" stroke-opacity="0.8" stroke-width="0.7"/>
<circle cx="833.30" cy="363.90" r="4.15" fill="#e6e6e6"/>
<circle cx="833.30" cy="363.90" r="3.42" fill="none" stroke="#fff" stroke-opacity="0.8" stroke-width="0.7"/>
<circle cx="831.55" cy="374.50" r="4.15" fill="#e6e6e6"/>
<circle cx="831.55" cy="374.50" r="3.42" fill="none" stroke="#fff" stroke-opacity="0.8" stroke-width="0.7"/>
<circle cx="830.30" cy="383.80" r="4.15" fill="#a0d6a8"/>
<circle cx="831.55" cy="385.05" r="4.15" fill="#a0d6a8"/>
<circle cx="830.30" cy="383.80" r="3.53" fill="#a0d6a8" stroke="none"/>
<circle cx="831.55" cy="385.05" r="3.53" fill="#a0d6a8" stroke="none"/>
<circle cx="834.55" cy="392.55" r="4.15" fill="#e6e6e6"/>
<circle cx="834.55" cy="392.55" r="3.42" fill="none" stroke="#fff" stroke-opacity="0.8" stroke-width="0.7"/>
<circle cx="830.55" cy="403.05" r="4.15" fill="#cde2d2"/>
<circle cx="830.55" cy="403.05" r="3.42" fill="none" stroke="#fff" stroke-opacity="0.8" stroke-width="0.7"/>
<circle cx="888.25" cy="384.80" r="4.15" fill="#8ad192"/>
<circle cx="890.00" cy="383.50" r="4.15" fill="#8ad192"/>
<circle cx="890.00" cy="386.10" r="4.15" fill="#8ad192"/>
<circle cx="888.25" cy="384.80" r="3.53" fill="#8ad192" stroke="none"/>
<circle cx="890.00" cy="383.50" r="3.53" fill="#8ad192" stroke="none"/>
<circle cx="890.00" cy="386.10" r="3.53" fill="#8ad192" stroke="none"/>
<circle cx="851.20" cy="417.40" r="4.15" fill="#b8dcc0"/>
<circle cx="855.90" cy="419.20" r="4.15" fill="#a0d6a8"/>
<circle cx="851.20" cy="417.40" r="3.53" fill="#b8dcc0" stroke="none"/>
<circle cx="855.90" cy="419.20" r="3.53" fill="#a0d6a8" stroke="none"/>
<circle cx="872.60" cy="422.70" r="4.15" fill="#e6e6e6"/>
<circle cx="872.60" cy="422.70" r="3.42" fill="none" stroke="#fff" stroke-opacity="0.8" stroke-width="0.7"/>
<circle cx="873.70" cy="431.70" r="4.15" fill="#cde2d2"/>
<circle cx="873.70" cy="431.70" r="3.42" fill="none" stroke="#fff" stroke-opacity="0.8" stroke-width="0.7"/>
<circle cx="887.05" cy="428.20" r="4.15" fill="#b6dcbe"/>
<circle cx="887.05" cy="428.20" r="3.42" fill="none" stroke="#fff" stroke-opacity="0.8" stroke-width="0.7"/>
<circle cx="882.80" cy="436.05" r="4.15" fill="#b8dcc0"/>
<circle cx="882.80" cy="436.05" r="3.42" fill="none" stroke="#fff" stroke-opacity="0.8" stroke-width="0.7"/>
<circle cx="890.50" cy="434.70" r="4.15" fill="#cde2d2"/>
<circle cx="890.50" cy="434.70" r="3.42" fill="none" stroke="#fff" stroke-opacity="0.8" stroke-width="0.7"/>
<circle cx="894.90" cy="439.20" r="4.15" fill="#a0d6a8"/>
<circle cx="894.90" cy="439.20" r="3.42" fill="none" stroke="#fff" stroke-opacity="0.8" stroke-width="0.7"/>
<circle cx="908.40" cy="337.90" r="4.15" fill="#cde2d2"/>
<circle cx="908.40" cy="337.90" r="3.42" fill="none" stroke="#fff" stroke-opacity="0.8" stroke-width="0.7"/>
<circle cx="936.90" cy="339.50" r="4.15" fill="#e6e6e6"/>
<circle cx="936.90" cy="339.50" r="3.42" fill="none" stroke="#fff" stroke-opacity="0.8" stroke-width="0.7"/>
<circle cx="941.80" cy="345.70" r="4.15" fill="#e6e6e6"/>
<circle cx="941.80" cy="345.70" r="3.42" fill="none" stroke="#fff" stroke-opacity="0.8" stroke-width="0.7"/>
<circle cx="938.40" cy="383.70" r="4.15" fill="#b6dcbe"/>
<circle cx="938.40" cy="383.70" r="3.42" fill="none" stroke="#fff" stroke-opacity="0.8" stroke-width="0.7"/>
<circle cx="915.80" cy="405.40" r="4.15" fill="#8ad192"/>
<circle cx="915.80" cy="405.40" r="3.42" fill="none" stroke="#fff" stroke-opacity="0.8" stroke-width="0.7"/>
<circle cx="912.90" cy="419.40" r="4.15" fill="#cde2d2"/>
<circle cx="912.90" cy="419.40" r="3.42" fill="none" stroke="#fff" stroke-opacity="0.8" stroke-width="0.7"/>
<circle cx="941.55" cy="436.10" r="4.15" fill="#e6e6e6"/>
<circle cx="941.55" cy="436.10" r="3.42" fill="none" stroke="#fff" stroke-opacity="0.8" stroke-width="0.7"/>
<circle cx="1107.20" cy="348.50" r="4.15" fill="#e6e6e6"/>
<circle cx="1107.20" cy="348.50" r="3.42" fill="none" stroke="#fff" stroke-opacity="0.8" stroke-width="0.7"/>
<circle cx="1078.30" cy="359.60" r="4.15" fill="#e6e6e6"/>
<circle cx="1078.30" cy="359.60" r="3.42" fill="none" stroke="#fff" stroke-opacity="0.8" stroke-width="0.7"/>
<circle cx="1031.90" cy="374.70" r="4.15" fill="#e6e6e6"/>
<circle cx="1027.20" cy="378.40" r="4.15" fill="#e6e6e6"/>
<circle cx="1037.10" cy="378.10" r="4.15" fill="#e6e6e6"/>
<circle cx="1028.50" cy="386.20" r="4.15" fill="#e6e6e6"/>
<circle cx="1036.80" cy="385.30" r="4.15" fill="#e6e6e6"/>
<circle cx="1032.50" cy="389.00" r="4.15" fill="#e6e6e6"/>
<circle cx="1032.30" cy="381.80" r="4.15" fill="#e6e6e6"/>
<circle cx="1031.90" cy="374.70" r="3.53" fill="#e6e6e6" stroke="none"/>
<circle cx="1027.20" cy="378.40" r="3.53" fill="#e6e6e6" stroke="none"/>
<circle cx="1037.10" cy="378.10" r="3.53" fill="#e6e6e6" stroke="none"/>
<circle cx="1028.50" cy="386.20" r="3.53" fill="#e6e6e6" stroke="none"/>
<circle cx="1036.80" cy="385.30" r="3.53" fill="#e6e6e6" stroke="none"/>
<circle cx="1032.50" cy="389.00" r="3.53" fill="#e6e6e6" stroke="none"/>
<circle cx="1032.30" cy="381.80" r="3.53" fill="#e6e6e6" stroke="none"/>
<line x1="1032.0" y1="384.4" x2="1033.6" y2="384.4" stroke-width="1"/>
<circle cx="1043.40" cy="391.50" r="4.15" fill="#e6e6e6"/>
<circle cx="1043.40" cy="391.50" r="3.42" fill="none" stroke="#fff" stroke-opacity="0.8" stroke-width="0.7"/>
<circle cx="1023.40" cy="395.70" r="4.15" fill="#e6e6e6"/>
<circle cx="1023.40" cy="395.70" r="3.42" fill="none" stroke="#fff" stroke-opacity="0.8" stroke-width="0.7"/>
<circle cx="955.60" cy="450.60" r="4.15" fill="#e9e4c0"/>
<circle cx="955.60" cy="450.60" r="3.42" fill="none" stroke="#fff" stroke-opacity="0.8" stroke-width="0.7"/>
<circle cx="908.05" cy="445.90" r="4.15" fill="#cde2d2"/>
<circle cx="904.90" cy="448.50" r="4.15" fill="#cde2d2"/>
<circle cx="909.90" cy="451.70" r="4.15" fill="#cde2d2"/>
<circle cx="908.05" cy="445.90" r="3.53" fill="#cde2d2" stroke="none"/>
<circle cx="904.90" cy="448.50" r="3.53" fill="#cde2d2" stroke="none"/>
<circle cx="909.90" cy="451.70" r="3.53" fill="#cde2d2" stroke="none"/>
<circle cx="903.00" cy="455.30" r="4.15" fill="#cde2d2"/>
<circle cx="903.10" cy="459.80" r="4.15" fill="#cde2d2"/>
<circle cx="903.00" cy="455.30" r="3.53" fill="#cde2d2" stroke="none"/>
<circle cx="903.10" cy="459.80" r="3.53" fill="#cde2d2" stroke="none"/>
<circle cx="912.30" cy="460.30" r="4.15" fill="#cde2d2"/>
<circle cx="912.30" cy="460.30" r="3.42" fill="none" stroke="#fff" stroke-opacity="0.8" stroke-width="0.7"/>
<circle cx="925.90" cy="454.40" r="4.15" fill="#b6dcbe"/>
<circle cx="931.30" cy="452.50" r="4.15" fill="#a0d6a8"/>
<circle cx="930.30" cy="456.30" r="4.15" fill="#a0d6a8"/>
<circle cx="933.60" cy="457.30" r="4.15" fill="#a0d6a8"/>
<circle cx="925.90" cy="454.40" r="3.53" fill="#b6dcbe" stroke="none"/>
<circle cx="931.30" cy="452.50" r="3.53" fill="#a0d6a8" stroke="none"/>
<circle cx="930.30" cy="456.30" r="3.53" fill="#a0d6a8" stroke="none"/>
<circle cx="933.60" cy="457.30" r="3.53" fill="#a0d6a8" stroke="none"/>
<circle cx="939.50" cy="453.90" r="4.15" fill="#a0d6a8"/>
<circle cx="939.50" cy="453.90" r="3.42" fill="none" stroke="#fff" stroke-opacity="0.8" stroke-width="0.7"/>
<circle cx="953.60" cy="464.80" r="4.15" fill="#b6dcbe"/>
<circle cx="953.60" cy="464.80" r="3.42" fill="none" stroke="#fff" stroke-opacity="0.8" stroke-width="0.7"/>
<circle cx="963.10" cy="471.10" r="4.15" fill="#b6dcbe"/>
<circle cx="963.10" cy="471.10" r="3.42" fill="none" stroke="#fff" stroke-opacity="0.8" stroke-width="0.7"/>
<circle cx="974.80" cy="479.60" r="4.15" fill="#a0d6a8"/>
<circle cx="974.80" cy="479.60" r="3.42" fill="none" stroke="#fff" stroke-opacity="0.8" stroke-width="0.7"/>
<circle cx="939.60" cy="483.90" r="4.15" fill="#cde2d2"/>
<circle cx="939.60" cy="483.90" r="3.42" fill="none" stroke="#fff" stroke-opacity="0.8" stroke-width="0.7"/>
<circle cx="938.30" cy="488.10" r="4.15" fill="#e6e6e6"/>
<circle cx="938.30" cy="488.10" r="3.42" fill="none" stroke="#fff" stroke-opacity="0.8" stroke-width="0.7"/>
<circle cx="925.80" cy="491.80" r="4.15" fill="#a0d6a8"/>
<circle cx="925.80" cy="491.80" r="3.42" fill="none" stroke="#fff" stroke-opacity="0.8" stroke-width="0.7"/>
<circle cx="935.30" cy="504.40" r="4.15" fill="#b6dcbe"/>
<circle cx="935.30" cy="504.40" r="3.42" fill="none" stroke="#fff" stroke-opacity="0.8" stroke-width="0.7"/>
<circle cx="931.60" cy="510.00" r="4.15" fill="#b6dcbe"/>
<circle cx="931.60" cy="510.00" r="3.42" fill="none" stroke="#fff" stroke-opacity="0.8" stroke-width="0.7"/>
<circle cx="945.30" cy="513.60" r="4.15" fill="#b6dcbe"/>
<circle cx="945.30" cy="513.60" r="3.42" fill="none" stroke="#fff" stroke-opacity="0.8" stroke-width="0.7"/>
<circle cx="938.00" cy="514.40" r="4.15" fill="#b6dcbe"/>
<circle cx="938.00" cy="514.40" r="3.42" fill="none" stroke="#fff" stroke-opacity="0.8" stroke-width="0.7"/>
<circle cx="930.00" cy="516.10" r="4.15" fill="#b6dcbe"/>
<circle cx="930.00" cy="516.10" r="3.42" fill="none" stroke="#fff" stroke-opacity="0.8" stroke-width="0.7"/>
<circle cx="932.40" cy="521.30" r="4.15" fill="#7ccc88"/>
<circle cx="932.40" cy="521.30" r="3.42" fill="none" stroke="#fff" stroke-opacity="0.8" stroke-width="0.7"/>
<circle cx="936.90" cy="523.70" r="4.15" fill="#7ccc88"/>
<circle cx="936.90" cy="523.70" r="3.42" fill="none" stroke="#fff" stroke-opacity="0.8" stroke-width="0.7"/>
<circle cx="958.30" cy="524.90" r="4.15" fill="#cde2d2"/>
<circle cx="958.30" cy="524.90" r="3.42" fill="none" stroke="#fff" stroke-opacity="0.8" stroke-width="0.7"/>
<circle cx="991.70" cy="516.90" r="4.15" fill="#a0d6a8"/>
<circle cx="991.70" cy="516.90" r="3.42" fill="none" stroke="#fff" stroke-opacity="0.8" stroke-width="0.7"/>
<circle cx="988.90" cy="525.00" r="4.15" fill="#e6e6e6"/>
<circle cx="988.90" cy="525.00" r="3.42" fill="none" stroke="#fff" stroke-opacity="0.8" stroke-width="0.7"/>
<circle cx="991.10" cy="530.80" r="4.15" fill="#e6e6e6"/>
<circle cx="991.10" cy="530.80" r="3.42" fill="none" stroke="#fff" stroke-opacity="0.8" stroke-width="0.7"/>
<circle cx="1023.30" cy="536.60" r="4.15" fill="#cde2d2"/>
<circle cx="1023.30" cy="536.60" r="3.42" fill="none" stroke="#fff" stroke-opacity="0.8" stroke-width="0.7"/>
</g>
<circle cx="1072.3" cy="578.3" r="2.6" fill="#000"/>
</g>
<text x="1083.6" y="582.6">AQS</text>
<g fill="none" stroke="#1c1c1c" stroke-width="0.9">
<rect x="628.8" y="28.8" width="484.7" height="563.7"/>
<line x1="645.0" y1="592.5" x2="645.0" y2="599.7"/>
<line x1="719.5" y1="592.5" x2="719.5" y2="599.7"/>
<line x1="794.7" y1="592.5" x2="794.7" y2="599.7"/>
<line x1="870.3" y1="592.5" x2="870.3" y2="599.7"/>
<line x1="946.7" y1="592.5" x2="946.7" y2="599.7"/>
<line x1="1023.3" y1="592.5" x2="1023.3" y2="599.7"/>
<line x1="1099.7" y1="592.5" x2="1099.7" y2="599.7"/>
<line x1="621.4" y1="42.5" x2="628.8" y2="42.5"/>
<line x1="621.4" y1="131.6" x2="628.8" y2="131.6"/>
<line x1="621.4" y1="220.5" x2="628.8" y2="220.5"/>
<line x1="621.4" y1="309.4" x2="628.8" y2="309.4"/>
<line x1="621.4" y1="398.2" x2="628.8" y2="398.2"/>
<line x1="621.4" y1="487.3" x2="628.8" y2="487.3"/>
<line x1="621.4" y1="576.5" x2="628.8" y2="576.5"/>
<line x1="644.6" y1="592.5" x2="1100.1" y2="592.5" stroke="#000" stroke-width="1.1"/>
<line x1="628.8" y1="42.1" x2="628.8" y2="576.9" stroke="#000" stroke-width="1.1"/>
</g>
<g text-anchor="middle">
<text x="644.5" y="619.2">-124</text>
<text x="719.0" y="619.2">-122</text>
<text x="794.2" y="619.2">-120</text>
<text x="869.8" y="619.2">-118</text>
<text x="946.2" y="619.2">-116</text>
<text x="1022.8" y="619.2">-114</text>
<text x="1099.2" y="619.2">-112</text>
<text transform="translate(612.2,43.1) rotate(-90)">45</text>
<text transform="translate(612.2,132.2) rotate(-90)">43</text>
<text transform="translate(612.2,221.1) rotate(-90)">41</text>
<text transform="translate(612.2,310.0) rotate(-90)">39</text>
<text transform="translate(612.2,398.8) rotate(-90)">37</text>
<text transform="translate(612.2,487.9) rotate(-90)">35</text>
<text transform="translate(612.2,577.1) rotate(-90)">33</text>
</g>
<g text-anchor="middle" font-weight="bold" font-size="14.4">
<text x="271.4" y="19.6">EMBER 36km: ATOTIJ_AVG on 08/04/2023</text>
<text x="871.2" y="19.6">EMBER bias: ATOTIJ_AVG on 08/04/2023</text>
</g>
<g text-anchor="middle">
<text x="271.3" y="639.8" textLength="268" lengthAdjust="spacing">Domain size: 37x32 | Max Model = 110 at (37, 12)</text>
<text x="270.8" y="655.2">Max Obs: 20</text>
<text x="870.9" y="639.8">Bias Summary: [ min, 25th %, 50th %, 75th %, max ]</text>
<text x="892.4" y="655.2" xml:space="preserve" word-spacing="-0.36">[ -9.3,   -4.5,   -2.1,   0.27,   38 ]</text>
</g>
<g shape-rendering="crispEdges">
<rect x="545.8" y="56.90" width="7.8" height="14.22" fill="#a52a2a"/>
<rect x="545.8" y="70.62" width="7.8" height="14.22" fill="#cc79a7"/>
<rect x="545.8" y="84.34" width="7.8" height="14.22" fill="#d3707f"/>
<rect x="545.8" y="98.06" width="7.8" height="14.22" fill="#d4705c"/>
<rect x="545.8" y="111.79" width="7.8" height="14.22" fill="#d6683a"/>
<rect x="545.8" y="125.51" width="7.8" height="14.22" fill="#d95f0e"/>
<rect x="545.8" y="139.23" width="7.8" height="14.22" fill="#dc6a08"/>
<rect x="545.8" y="152.95" width="7.8" height="14.22" fill="#e07a06"/>
<rect x="545.8" y="166.67" width="7.8" height="14.22" fill="#e38a05"/>
<rect x="545.8" y="180.39" width="7.8" height="14.22" fill="#e69a03"/>
<rect x="545.8" y="194.12" width="7.8" height="14.22" fill="#e8a50c"/>
<rect x="545.8" y="207.84" width="7.8" height="14.22" fill="#eab018"/>
<rect x="545.8" y="221.56" width="7.8" height="14.22" fill="#ecbc22"/>
<rect x="545.8" y="235.28" width="7.8" height="14.22" fill="#eecb2e"/>
<rect x="545.8" y="249.00" width="7.8" height="14.22" fill="#efe045"/>
<rect x="545.8" y="262.72" width="7.8" height="14.22" fill="#c5d54a"/>
<rect x="545.8" y="276.45" width="7.8" height="14.22" fill="#8fc65a"/>
<rect x="545.8" y="290.17" width="7.8" height="14.22" fill="#52b36a"/>
<rect x="545.8" y="303.89" width="7.8" height="14.22" fill="#1aa078"/>
<rect x="545.8" y="317.61" width="7.8" height="14.22" fill="#059a7a"/>
<rect x="545.8" y="331.33" width="7.8" height="14.22" fill="#00908a"/>
<rect x="545.8" y="345.05" width="7.8" height="14.22" fill="#008496"/>
<rect x="545.8" y="358.78" width="7.8" height="14.22" fill="#0a78a8"/>
<rect x="545.8" y="372.50" width="7.8" height="14.22" fill="#0a70b6"/>
<rect x="545.8" y="386.22" width="7.8" height="14.22" fill="#1a80c4"/>
<rect x="545.8" y="399.94" width="7.8" height="14.22" fill="#2a8fd0"/>
<rect x="545.8" y="413.66" width="7.8" height="14.22" fill="#3d9edb"/>
<rect x="545.8" y="427.38" width="7.8" height="14.22" fill="#52aee6"/>
<rect x="545.8" y="441.11" width="7.8" height="14.22" fill="#62b0e0"/>
<rect x="545.8" y="454.83" width="7.8" height="14.22" fill="#6ea9cf"/>
<rect x="545.8" y="468.55" width="7.8" height="14.22" fill="#7ea2bc"/>
<rect x="545.8" y="482.27" width="7.8" height="14.22" fill="#8b9ba6"/>
<rect x="545.8" y="495.99" width="7.8" height="14.22" fill="#999999"/>
<rect x="545.8" y="509.71" width="7.8" height="14.22" fill="#adadad"/>
<rect x="545.8" y="523.44" width="7.8" height="14.22" fill="#c2c2c2"/>
<rect x="545.8" y="537.16" width="7.8" height="14.22" fill="#d5d5d5"/>
<rect x="545.8" y="550.88" width="7.8" height="14.22" fill="#e8e8e8"/>
</g>
<rect x="545.8" y="56.9" width="7.8" height="507.7" fill="none" stroke="#888" stroke-width="0.5"/>
<line x1="553.6" y1="56.9" x2="553.6" y2="564.6" stroke="#000" stroke-width="1"/>
<line x1="553.6" y1="63.6" x2="560.2" y2="63.6" stroke="#000" stroke-width="1"/>
<text x="567.8" y="68.1">18000</text>
<line x1="553.6" y1="79.4" x2="560.2" y2="79.4" stroke="#000" stroke-width="1"/>
<text x="567.8" y="83.9">120</text>
<line x1="553.6" y1="156.4" x2="560.2" y2="156.4" stroke="#000" stroke-width="1"/>
<text x="567.8" y="160.9">100</text>
<line x1="553.6" y1="233.5" x2="560.2" y2="233.5" stroke="#000" stroke-width="1"/>
<text x="567.8" y="238.0">80</text>
<line x1="553.6" y1="310.6" x2="560.2" y2="310.6" stroke="#000" stroke-width="1"/>
<text x="567.8" y="315.1">60</text>
<line x1="553.6" y1="387.8" x2="560.2" y2="387.8" stroke="#000" stroke-width="1"/>
<text x="567.8" y="392.3">40</text>
<line x1="553.6" y1="465.0" x2="560.2" y2="465.0" stroke="#000" stroke-width="1"/>
<text x="567.8" y="469.5">20</text>
<line x1="553.6" y1="542.1" x2="560.2" y2="542.1" stroke="#000" stroke-width="1"/>
<text x="567.8" y="546.6">0</text>
<text x="533.2" y="53.6">ug/m3</text>
<g shape-rendering="crispEdges">
<rect x="1145.8" y="56.90" width="7.8" height="8.96" fill="#a52a2a"/>
<rect x="1145.8" y="65.36" width="7.8" height="8.96" fill="#a62929"/>
<rect x="1145.8" y="73.82" width="7.8" height="8.96" fill="#b52020"/>
<rect x="1145.8" y="82.28" width="7.8" height="8.96" fill="#c81818"/>
<rect x="1145.8" y="90.75" width="7.8" height="8.96" fill="#dc1010"/>
<rect x="1145.8" y="99.21" width="7.8" height="8.96" fill="#f00808"/>
<rect x="1145.8" y="107.67" width="7.8" height="8.96" fill="#ff0a0a"/>
<rect x="1145.8" y="116.13" width="7.8" height="8.96" fill="#f0283a"/>
<rect x="1145.8" y="124.59" width="7.8" height="8.96" fill="#e43d58"/>
<rect x="1145.8" y="133.06" width="7.8" height="8.96" fill="#dc5278"/>
<rect x="1145.8" y="141.52" width="7.8" height="8.96" fill="#cc74a2"/>
<rect x="1145.8" y="149.98" width="7.8" height="8.96" fill="#d0708a"/>
<rect x="1145.8" y="158.44" width="7.8" height="8.96" fill="#d47068"/>
<rect x="1145.8" y="166.90" width="7.8" height="8.96" fill="#d66840"/>
<rect x="1145.8" y="175.36" width="7.8" height="8.96" fill="#d86228"/>
<rect x="1145.8" y="183.83" width="7.8" height="8.96" fill="#d95f0e"/>
<rect x="1145.8" y="192.29" width="7.8" height="8.96" fill="#dc6c0a"/>
<rect x="1145.8" y="200.75" width="7.8" height="8.96" fill="#e07c08"/>
<rect x="1145.8" y="209.21" width="7.8" height="8.96" fill="#e38806"/>
<rect x="1145.8" y="217.67" width="7.8" height="8.96" fill="#e69508"/>
<rect x="1145.8" y="226.13" width="7.8" height="8.96" fill="#e8a50c"/>
<rect x="1145.8" y="234.60" width="7.8" height="8.96" fill="#ebb41a"/>
<rect x="1145.8" y="243.06" width="7.8" height="8.96" fill="#edc226"/>
<rect x="1145.8" y="251.52" width="7.8" height="8.96" fill="#efd234"/>
<rect x="1145.8" y="259.98" width="7.8" height="8.96" fill="#f0e044"/>
<rect x="1145.8" y="268.44" width="7.8" height="8.96" fill="#efe258"/>
<rect x="1145.8" y="276.90" width="7.8" height="8.96" fill="#ede278"/>
<rect x="1145.8" y="285.37" width="7.8" height="8.96" fill="#ebe29a"/>
<rect x="1145.8" y="293.83" width="7.8" height="8.96" fill="#e9e4c0"/>
<rect x="1145.8" y="302.29" width="7.8" height="8.96" fill="#e8e8e8"/>
<rect x="1145.8" y="310.75" width="7.8" height="8.96" fill="#e8e8e8"/>
<rect x="1145.8" y="319.21" width="7.8" height="8.96" fill="#cde2d2"/>
<rect x="1145.8" y="327.67" width="7.8" height="8.96" fill="#b8dcc0"/>
<rect x="1145.8" y="336.13" width="7.8" height="8.96" fill="#a0d6a8"/>
<rect x="1145.8" y="344.60" width="7.8" height="8.96" fill="#88d090"/>
<rect x="1145.8" y="353.06" width="7.8" height="8.96" fill="#70c880"/>
<rect x="1145.8" y="361.52" width="7.8" height="8.96" fill="#58bc7c"/>
<rect x="1145.8" y="369.98" width="7.8" height="8.96" fill="#40b07a"/>
<rect x="1145.8" y="378.44" width="7.8" height="8.96" fill="#28a478"/>
<rect x="1145.8" y="386.91" width="7.8" height="8.96" fill="#109a78"/>
<rect x="1145.8" y="395.37" width="7.8" height="8.96" fill="#05907e"/>
<rect x="1145.8" y="403.83" width="7.8" height="8.96" fill="#008890"/>
<rect x="1145.8" y="412.29" width="7.8" height="8.96" fill="#007e9c"/>
<rect x="1145.8" y="420.75" width="7.8" height="8.96" fill="#0874a8"/>
<rect x="1145.8" y="429.21" width="7.8" height="8.96" fill="#0a68b4"/>
<rect x="1145.8" y="437.68" width="7.8" height="8.96" fill="#0a5cc4"/>
<rect x="1145.8" y="446.14" width="7.8" height="8.96" fill="#0a4cd8"/>
<rect x="1145.8" y="454.60" width="7.8" height="8.96" fill="#1040ec"/>
<rect x="1145.8" y="463.06" width="7.8" height="8.96" fill="#1a38fc"/>
<rect x="1145.8" y="471.52" width="7.8" height="8.96" fill="#3030ff"/>
<rect x="1145.8" y="479.98" width="7.8" height="8.96" fill="#3a30fc"/>
<rect x="1145.8" y="488.45" width="7.8" height="8.96" fill="#5a2ef6"/>
<rect x="1145.8" y="496.91" width="7.8" height="8.96" fill="#7a28f0"/>
<rect x="1145.8" y="505.37" width="7.8" height="8.96" fill="#9820e8"/>
<rect x="1145.8" y="513.83" width="7.8" height="8.96" fill="#9020d8"/>
<rect x="1145.8" y="522.29" width="7.8" height="8.96" fill="#8020c0"/>
<rect x="1145.8" y="530.75" width="7.8" height="8.96" fill="#7420b0"/>
<rect x="1145.8" y="539.22" width="7.8" height="8.96" fill="#6c20a0"/>
<rect x="1145.8" y="547.68" width="7.8" height="8.96" fill="#662288"/>
<rect x="1145.8" y="556.14" width="7.8" height="8.96" fill="#682888"/>
</g>
<rect x="1145.8" y="56.9" width="7.8" height="507.7" fill="none" stroke="#888" stroke-width="0.5"/>
<line x1="1153.6" y1="56.9" x2="1153.6" y2="564.6" stroke="#000" stroke-width="1"/>
<line x1="1153.6" y1="61.3" x2="1160.2" y2="61.3" stroke="#000" stroke-width="1"/>
<text x="1167.8" y="65.8">550</text>
<line x1="1153.6" y1="144.5" x2="1160.2" y2="144.5" stroke="#000" stroke-width="1"/>
<text x="1167.8" y="149.0">40</text>
<line x1="1153.6" y1="227.5" x2="1160.2" y2="227.5" stroke="#000" stroke-width="1"/>
<text x="1167.8" y="232.0">20</text>
<line x1="1153.6" y1="310.4" x2="1160.2" y2="310.4" stroke="#000" stroke-width="1"/>
<text x="1167.8" y="314.9">0</text>
<line x1="1153.6" y1="394.0" x2="1160.2" y2="394.0" stroke="#000" stroke-width="1"/>
<text x="1167.8" y="398.5">-20</text>
<line x1="1153.6" y1="477.1" x2="1160.2" y2="477.1" stroke="#000" stroke-width="1"/>
<text x="1167.8" y="481.6">-40</text>
<line x1="1153.6" y1="560.5" x2="1160.2" y2="560.5" stroke="#000" stroke-width="1"/>
<text x="1167.8" y="565.0">-200</text>
<text x="1133.2" y="53.6">ug/m3</text>
</svg>
</body>
</html>
